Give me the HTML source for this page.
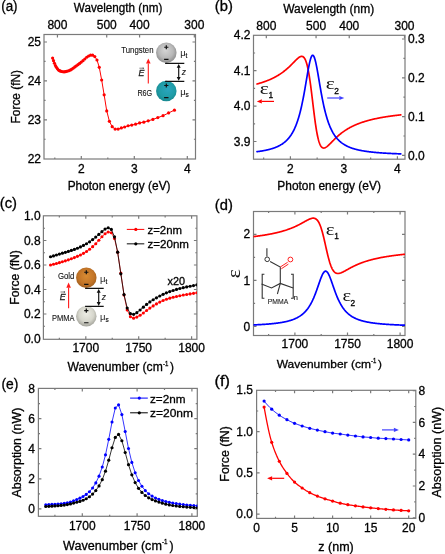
<!DOCTYPE html>
<html><head><meta charset="utf-8"><style>
html,body{margin:0;padding:0;background:#fff;width:445px;height:554px;overflow:hidden;position:relative}
</style></head><body>
<svg width="445" height="554" viewBox="0 0 445 554" style="position:absolute;left:0;top:0;will-change:transform">
<g font-family='"Liberation Sans", sans-serif'>
<text x="1.2" y="11.3" font-size="14" text-anchor="start" fill="#000" stroke="#000" stroke-width="0.3" textLength="16.4" lengthAdjust="spacingAndGlyphs" >(a)</text>
<rect x="44" y="34.5" width="151.5" height="124.5" fill="none" stroke="#7a7a7a" stroke-width="1.2"/>
<path d="M81.3 159v-3M134.3 159v-3M187.3 159v-3" stroke="#7a7a7a" stroke-width="1.2" fill="none"/>
<path d="M54.8 159v-1.6M107.8 159v-1.6M160.8 159v-1.6" stroke="#7a7a7a" stroke-width="1.2" fill="none"/>
<path d="M57.44 34.5v3M106.72 34.5v3M139.58 34.5v3M194.34 34.5v3" stroke="#7a7a7a" stroke-width="1.2" fill="none"/>
<path d="M44 119.8h3M44 80.9h3M44 42h3" stroke="#7a7a7a" stroke-width="1.2" fill="none"/>
<path d="M44 139.25h1.6M44 100.35h1.6M44 61.45h1.6" stroke="#7a7a7a" stroke-width="1.2" fill="none"/>
<path d="M195.5 119.8h-3M195.5 80.9h-3M195.5 42h-3" stroke="#7a7a7a" stroke-width="1.2" fill="none"/>
<path d="M195.5 139.25h-1.6M195.5 100.35h-1.6M195.5 61.45h-1.6" stroke="#7a7a7a" stroke-width="1.2" fill="none"/>
<text x="41" y="162.9" font-size="12" text-anchor="end" fill="#000" stroke="#000" stroke-width="0.3" >22</text>
<text x="41" y="124" font-size="12" text-anchor="end" fill="#000" stroke="#000" stroke-width="0.3" >23</text>
<text x="41" y="85.1" font-size="12" text-anchor="end" fill="#000" stroke="#000" stroke-width="0.3" >24</text>
<text x="41" y="46.2" font-size="12" text-anchor="end" fill="#000" stroke="#000" stroke-width="0.3" >25</text>
<text x="81.3" y="173.2" font-size="12" text-anchor="middle" fill="#000" stroke="#000" stroke-width="0.3" >2</text>
<text x="134.3" y="173.2" font-size="12" text-anchor="middle" fill="#000" stroke="#000" stroke-width="0.3" >3</text>
<text x="187.3" y="173.2" font-size="12" text-anchor="middle" fill="#000" stroke="#000" stroke-width="0.3" >4</text>
<text x="57.44" y="29.4" font-size="12" text-anchor="middle" fill="#000" stroke="#000" stroke-width="0.3" >800</text>
<text x="106.72" y="29.4" font-size="12" text-anchor="middle" fill="#000" stroke="#000" stroke-width="0.3" >500</text>
<text x="139.58" y="29.4" font-size="12" text-anchor="middle" fill="#000" stroke="#000" stroke-width="0.3" >400</text>
<text x="194.34" y="29.4" font-size="12" text-anchor="middle" fill="#000" stroke="#000" stroke-width="0.3" >300</text>
<text x="118.05" y="11.6" font-size="12" text-anchor="middle" fill="#000" stroke="#000" stroke-width="0.3" textLength="88.5" lengthAdjust="spacingAndGlyphs" >Wavelength (nm)</text>
<text x="119.1" y="189.6" font-size="12" text-anchor="middle" fill="#000" stroke="#000" stroke-width="0.3" textLength="102.8" lengthAdjust="spacingAndGlyphs" >Photon energy (eV)</text>
<text x="20.1" y="96.7" font-size="12" text-anchor="middle" fill="#000" stroke="#000" stroke-width="0.3" textLength="53.5" lengthAdjust="spacingAndGlyphs" transform="rotate(-90 20.1 96.7)">Force (fN)</text>
<path d="M174.43 110.13 L168.57 112.96 L163.05 115.71 L157.83 117.62 L152.9 119.4 L148.23 120.85 L143.79 122.13 L139.58 122.96 L135.57 124.21 L131.76 125.11 L128.12 125.77 L124.64 126.99 L121.33 127.97 L118.15 129.08 L115.11 129.1 L112.2 126.72 L109.41 121.34 L106.72 110.9 L104.15 94.87 L101.67 79.99 L99.28 67.34 L96.99 59.98 L94.78 56.55 L92.64 55.17 L90.58 55.2 L88.6 56.01 L86.68 57.26 L84.82 59.02 L83.02 60.71 L81.29 62.11 L79.6 63.42 L77.97 64.64 L76.39 65.79 L74.86 66.92 L73.38 68.06 L71.93 69.11 L70.53 69.96 L69.17 70.54 L67.85 70.99 L66.57 71.37 L65.32 71.65 L64.1 71.79 L62.92 71.75 L61.76 71.51 L60.64 71.13 L59.55 70.66 L58.48 70 L57.44 68.84 L56.43 67.35 L55.44 65.62 L54.47 63.25 L53.53 60.71 L52.61 58.11" stroke="#ff0000" stroke-width="1.0" fill="none" stroke-linejoin="round" stroke-linecap="round"/>
<circle cx="174.43" cy="110.13" r="1.6" fill="#ff0000"/>
<circle cx="168.57" cy="112.96" r="1.6" fill="#ff0000"/>
<circle cx="163.05" cy="115.71" r="1.6" fill="#ff0000"/>
<circle cx="157.83" cy="117.62" r="1.6" fill="#ff0000"/>
<circle cx="152.9" cy="119.4" r="1.6" fill="#ff0000"/>
<circle cx="148.23" cy="120.85" r="1.6" fill="#ff0000"/>
<circle cx="143.79" cy="122.13" r="1.6" fill="#ff0000"/>
<circle cx="139.58" cy="122.96" r="1.6" fill="#ff0000"/>
<circle cx="135.57" cy="124.21" r="1.6" fill="#ff0000"/>
<circle cx="131.76" cy="125.11" r="1.6" fill="#ff0000"/>
<circle cx="128.12" cy="125.77" r="1.6" fill="#ff0000"/>
<circle cx="124.64" cy="126.99" r="1.6" fill="#ff0000"/>
<circle cx="121.33" cy="127.97" r="1.6" fill="#ff0000"/>
<circle cx="118.15" cy="129.08" r="1.6" fill="#ff0000"/>
<circle cx="115.11" cy="129.1" r="1.6" fill="#ff0000"/>
<circle cx="112.2" cy="126.72" r="1.6" fill="#ff0000"/>
<circle cx="109.41" cy="121.34" r="1.6" fill="#ff0000"/>
<circle cx="106.72" cy="110.9" r="1.6" fill="#ff0000"/>
<circle cx="104.15" cy="94.87" r="1.6" fill="#ff0000"/>
<circle cx="101.67" cy="79.99" r="1.6" fill="#ff0000"/>
<circle cx="99.28" cy="67.34" r="1.6" fill="#ff0000"/>
<circle cx="96.99" cy="59.98" r="1.6" fill="#ff0000"/>
<circle cx="94.78" cy="56.55" r="1.6" fill="#ff0000"/>
<circle cx="92.64" cy="55.17" r="1.6" fill="#ff0000"/>
<circle cx="90.58" cy="55.2" r="1.6" fill="#ff0000"/>
<circle cx="88.6" cy="56.01" r="1.6" fill="#ff0000"/>
<circle cx="86.68" cy="57.26" r="1.6" fill="#ff0000"/>
<circle cx="84.82" cy="59.02" r="1.6" fill="#ff0000"/>
<circle cx="83.02" cy="60.71" r="1.6" fill="#ff0000"/>
<circle cx="81.29" cy="62.11" r="1.6" fill="#ff0000"/>
<circle cx="79.6" cy="63.42" r="1.6" fill="#ff0000"/>
<circle cx="77.97" cy="64.64" r="1.6" fill="#ff0000"/>
<circle cx="76.39" cy="65.79" r="1.6" fill="#ff0000"/>
<circle cx="74.86" cy="66.92" r="1.6" fill="#ff0000"/>
<circle cx="73.38" cy="68.06" r="1.6" fill="#ff0000"/>
<circle cx="71.93" cy="69.11" r="1.6" fill="#ff0000"/>
<circle cx="70.53" cy="69.96" r="1.6" fill="#ff0000"/>
<circle cx="69.17" cy="70.54" r="1.6" fill="#ff0000"/>
<circle cx="67.85" cy="70.99" r="1.6" fill="#ff0000"/>
<circle cx="66.57" cy="71.37" r="1.6" fill="#ff0000"/>
<circle cx="65.32" cy="71.65" r="1.6" fill="#ff0000"/>
<circle cx="64.1" cy="71.79" r="1.6" fill="#ff0000"/>
<circle cx="62.92" cy="71.75" r="1.6" fill="#ff0000"/>
<circle cx="61.76" cy="71.51" r="1.6" fill="#ff0000"/>
<circle cx="60.64" cy="71.13" r="1.6" fill="#ff0000"/>
<circle cx="59.55" cy="70.66" r="1.6" fill="#ff0000"/>
<circle cx="58.48" cy="70" r="1.6" fill="#ff0000"/>
<circle cx="57.44" cy="68.84" r="1.6" fill="#ff0000"/>
<circle cx="56.43" cy="67.35" r="1.6" fill="#ff0000"/>
<circle cx="55.44" cy="65.62" r="1.6" fill="#ff0000"/>
<circle cx="54.47" cy="63.25" r="1.6" fill="#ff0000"/>
<circle cx="53.53" cy="60.71" r="1.6" fill="#ff0000"/>
<circle cx="52.61" cy="58.11" r="1.6" fill="#ff0000"/>
<text x="214.8" y="10.9" font-size="14" text-anchor="start" fill="#000" stroke="#000" stroke-width="0.3" textLength="18" lengthAdjust="spacingAndGlyphs" >(b)</text>
<rect x="253.5" y="35.3" width="151.5" height="123.9" fill="none" stroke="#7a7a7a" stroke-width="1.2"/>
<path d="M290.4 159.2v-3M343.9 159.2v-3M397.4 159.2v-3" stroke="#7a7a7a" stroke-width="1.2" fill="none"/>
<path d="M263.65 159.2v-1.6M317.15 159.2v-1.6M370.65 159.2v-1.6" stroke="#7a7a7a" stroke-width="1.2" fill="none"/>
<path d="M266.31 35.3v3M316.06 35.3v3M349.23 35.3v3M404.5 35.3v3" stroke="#7a7a7a" stroke-width="1.2" fill="none"/>
<path d="M253.5 141.5h3M253.5 106.1h3M253.5 70.7h3" stroke="#7a7a7a" stroke-width="1.2" fill="none"/>
<path d="M253.5 123.8h1.6M253.5 88.4h1.6M253.5 53h1.6" stroke="#7a7a7a" stroke-width="1.2" fill="none"/>
<path d="M405 155.4h-3M405 116.6h-3M405 77.8h-3M405 39h-3" stroke="#7a7a7a" stroke-width="1.2" fill="none"/>
<path d="M405 136h-1.6M405 97.2h-1.6M405 58.4h-1.6" stroke="#7a7a7a" stroke-width="1.2" fill="none"/>
<text x="250.5" y="145.6" font-size="12" text-anchor="end" fill="#000" stroke="#000" stroke-width="0.3" >3.9</text>
<text x="250.5" y="110.2" font-size="12" text-anchor="end" fill="#000" stroke="#000" stroke-width="0.3" >4.0</text>
<text x="250.5" y="74.8" font-size="12" text-anchor="end" fill="#000" stroke="#000" stroke-width="0.3" >4.1</text>
<text x="250.5" y="39.4" font-size="12" text-anchor="end" fill="#000" stroke="#000" stroke-width="0.3" >4.2</text>
<text x="408" y="159.5" font-size="12" text-anchor="start" fill="#000" stroke="#000" stroke-width="0.3" >0.0</text>
<text x="408" y="120.7" font-size="12" text-anchor="start" fill="#000" stroke="#000" stroke-width="0.3" >0.1</text>
<text x="408" y="81.9" font-size="12" text-anchor="start" fill="#000" stroke="#000" stroke-width="0.3" >0.2</text>
<text x="408" y="43.1" font-size="12" text-anchor="start" fill="#000" stroke="#000" stroke-width="0.3" >0.3</text>
<text x="290.4" y="173.2" font-size="12" text-anchor="middle" fill="#000" stroke="#000" stroke-width="0.3" >2</text>
<text x="343.9" y="173.2" font-size="12" text-anchor="middle" fill="#000" stroke="#000" stroke-width="0.3" >3</text>
<text x="397.4" y="173.2" font-size="12" text-anchor="middle" fill="#000" stroke="#000" stroke-width="0.3" >4</text>
<text x="266.31" y="30.2" font-size="12" text-anchor="middle" fill="#000" stroke="#000" stroke-width="0.3" >800</text>
<text x="316.06" y="30.2" font-size="12" text-anchor="middle" fill="#000" stroke="#000" stroke-width="0.3" >500</text>
<text x="349.23" y="30.2" font-size="12" text-anchor="middle" fill="#000" stroke="#000" stroke-width="0.3" >400</text>
<text x="404.5" y="30.2" font-size="12" text-anchor="middle" fill="#000" stroke="#000" stroke-width="0.3" >300</text>
<text x="328.65" y="12.9" font-size="12" text-anchor="middle" fill="#000" stroke="#000" stroke-width="0.3" textLength="91" lengthAdjust="spacingAndGlyphs" >Wavelength (nm)</text>
<text x="329.1" y="189.6" font-size="12" text-anchor="middle" fill="#000" stroke="#000" stroke-width="0.3" textLength="103.6" lengthAdjust="spacingAndGlyphs" >Photon energy (eV)</text>
<clipPath id="cb"><rect x="253.5" y="35.3" width="151.5" height="123.9"/></clipPath>
<g clip-path="url(#cb)">
<path d="M257 83.97 L257.36 83.88 L257.72 83.78 L258.08 83.68 L258.44 83.57 L258.8 83.47 L259.16 83.37 L259.52 83.26 L259.88 83.15 L260.24 83.05 L260.6 82.94 L260.96 82.82 L261.32 82.71 L261.69 82.6 L262.05 82.48 L262.41 82.36 L262.77 82.25 L263.13 82.13 L263.49 82 L263.85 81.88 L264.21 81.76 L264.57 81.63 L264.93 81.5 L265.29 81.37 L265.65 81.24 L266.01 81.11 L266.37 80.97 L266.73 80.83 L267.09 80.69 L267.45 80.55 L267.81 80.41 L268.17 80.26 L268.53 80.12 L268.89 79.97 L269.25 79.82 L269.61 79.66 L269.97 79.51 L270.33 79.35 L270.7 79.19 L271.06 79.03 L271.42 78.86 L271.78 78.7 L272.14 78.53 L272.5 78.36 L272.86 78.18 L273.22 78 L273.58 77.82 L273.94 77.64 L274.3 77.46 L274.66 77.27 L275.02 77.08 L275.38 76.89 L275.74 76.69 L276.1 76.49 L276.46 76.29 L276.82 76.08 L277.18 75.88 L277.54 75.67 L277.9 75.45 L278.26 75.23 L278.62 75.01 L278.98 74.79 L279.34 74.56 L279.71 74.33 L280.07 74.09 L280.43 73.85 L280.79 73.61 L281.15 73.37 L281.51 73.12 L281.87 72.86 L282.23 72.61 L282.59 72.35 L282.95 72.08 L283.31 71.81 L283.67 71.54 L284.03 71.26 L284.39 70.98 L284.75 70.69 L285.11 70.4 L285.47 70.11 L285.83 69.81 L286.19 69.51 L286.55 69.2 L286.91 68.89 L287.27 68.58 L287.63 68.26 L287.99 67.94 L288.35 67.61 L288.72 67.28 L289.08 66.94 L289.44 66.6 L289.8 66.26 L290.16 65.91 L290.52 65.56 L290.88 65.21 L291.24 64.85 L291.6 64.49 L291.96 64.13 L292.32 63.77 L292.68 63.4 L293.04 63.03 L293.4 62.66 L293.76 62.3 L294.12 61.93 L294.48 61.56 L294.84 61.19 L295.2 60.83 L295.56 60.46 L295.92 60.11 L296.28 59.76 L296.64 59.41 L297 59.07 L297.36 58.75 L297.73 58.43 L298.09 58.13 L298.45 57.84 L298.81 57.56 L299.17 57.31 L299.53 57.08 L299.89 56.88 L300.25 56.7 L300.61 56.56 L300.97 56.45 L301.33 56.38 L301.69 56.36 L302.05 56.38 L302.41 56.46 L302.77 56.6 L303.13 56.8 L303.49 57.07 L303.85 57.42 L304.21 57.85 L304.57 58.37 L304.93 58.98 L305.29 59.7 L305.65 60.53 L306.01 61.48 L306.37 62.55 L306.74 63.74 L307.1 65.07 L307.46 66.54 L307.82 68.14 L308.18 69.89 L308.54 71.79 L308.9 73.82 L309.26 76 L309.62 78.31 L309.98 80.75 L310.34 83.31 L310.7 85.98 L311.06 88.75 L311.42 91.6 L311.78 94.51 L312.14 97.48 L312.5 100.47 L312.86 103.48 L313.22 106.48 L313.58 109.45 L313.94 112.37 L314.3 115.23 L314.66 118.01 L315.02 120.7 L315.38 123.28 L315.75 125.74 L316.11 128.07 L316.47 130.27 L316.83 132.32 L317.19 134.24 L317.55 136.01 L317.91 137.64 L318.27 139.13 L318.63 140.48 L318.99 141.69 L319.35 142.78 L319.71 143.74 L320.07 144.59 L320.43 145.32 L320.79 145.96 L321.15 146.49 L321.51 146.94 L321.87 147.3 L322.23 147.58 L322.59 147.79 L322.95 147.94 L323.31 148.02 L323.67 148.05 L324.03 148.04 L324.39 147.97 L324.76 147.87 L325.12 147.73 L325.48 147.56 L325.84 147.36 L326.2 147.14 L326.56 146.89 L326.92 146.62 L327.28 146.33 L327.64 146.03 L328 145.72 L328.36 145.39 L328.72 145.05 L329.08 144.71 L329.44 144.36 L329.8 144 L330.16 143.64 L330.52 143.28 L330.88 142.91 L331.24 142.54 L331.6 142.17 L331.96 141.8 L332.32 141.44 L332.68 141.07 L333.04 140.7 L333.41 140.34 L333.77 139.97 L334.13 139.61 L334.49 139.26 L334.85 138.9 L335.21 138.55 L335.57 138.21 L335.93 137.86 L336.29 137.52 L336.65 137.19 L337.01 136.85 L337.37 136.53 L337.73 136.2 L338.09 135.88 L338.45 135.57 L338.81 135.26 L339.17 134.95 L339.53 134.65 L339.89 134.35 L340.25 134.05 L340.61 133.76 L340.97 133.48 L341.33 133.19 L341.69 132.92 L342.05 132.64 L342.42 132.37 L342.78 132.11 L343.14 131.85 L343.5 131.59 L343.86 131.33 L344.22 131.08 L344.58 130.84 L344.94 130.59 L345.3 130.36 L345.66 130.12 L346.02 129.89 L346.38 129.66 L346.74 129.43 L347.1 129.21 L347.46 128.99 L347.82 128.78 L348.18 128.57 L348.54 128.36 L348.9 128.15 L349.26 127.95 L349.62 127.75 L349.98 127.55 L350.34 127.36 L350.7 127.17 L351.06 126.98 L351.43 126.8 L351.79 126.61 L352.15 126.43 L352.51 126.26 L352.87 126.08 L353.23 125.91 L353.59 125.74 L353.95 125.57 L354.31 125.41 L354.67 125.25 L355.03 125.09 L355.39 124.93 L355.75 124.77 L356.11 124.62 L356.47 124.47 L356.83 124.32 L357.19 124.17 L357.55 124.02 L357.91 123.88 L358.27 123.74 L358.63 123.6 L358.99 123.46 L359.35 123.33 L359.71 123.19 L360.07 123.06 L360.44 122.93 L360.8 122.8 L361.16 122.68 L361.52 122.55 L361.88 122.43 L362.24 122.3 L362.6 122.18 L362.96 122.07 L363.32 121.95 L363.68 121.83 L364.04 121.72 L364.4 121.6 L364.76 121.49 L365.12 121.38 L365.48 121.27 L365.84 121.17 L366.2 121.06 L366.56 120.96 L366.92 120.85 L367.28 120.75 L367.64 120.65 L368 120.55 L368.36 120.45 L368.72 120.35 L369.08 120.26 L369.45 120.16 L369.81 120.07 L370.17 119.98 L370.53 119.89 L370.89 119.8 L371.25 119.71 L371.61 119.62 L371.97 119.53 L372.33 119.44 L372.69 119.36 L373.05 119.27 L373.41 119.19 L373.77 119.11 L374.13 119.03 L374.49 118.95 L374.85 118.87 L375.21 118.79 L375.57 118.71 L375.93 118.63 L376.29 118.56 L376.65 118.48 L377.01 118.41 L377.37 118.33 L377.73 118.26 L378.09 118.19 L378.46 118.12 L378.82 118.05 L379.18 117.98 L379.54 117.91 L379.9 117.84 L380.26 117.77 L380.62 117.7 L380.98 117.64 L381.34 117.57 L381.7 117.51 L382.06 117.44 L382.42 117.38 L382.78 117.32 L383.14 117.26 L383.5 117.2 L383.86 117.13 L384.22 117.07 L384.58 117.01 L384.94 116.96 L385.3 116.9 L385.66 116.84 L386.02 116.78 L386.38 116.73 L386.74 116.67 L387.1 116.61 L387.47 116.56 L387.83 116.51 L388.19 116.45 L388.55 116.4 L388.91 116.35 L389.27 116.29 L389.63 116.24 L389.99 116.19 L390.35 116.14 L390.71 116.09 L391.07 116.04 L391.43 115.99 L391.79 115.94 L392.15 115.89 L392.51 115.85 L392.87 115.8 L393.23 115.75 L393.59 115.7 L393.95 115.66 L394.31 115.61 L394.67 115.57 L395.03 115.52 L395.39 115.48 L395.75 115.43 L396.11 115.39 L396.48 115.35 L396.84 115.31 L397.2 115.26 L397.56 115.22 L397.92 115.18 L398.28 115.14 L398.64 115.1 L399 115.06 L399.36 115.02 L399.72 114.98 L400.08 114.94 L400.44 114.9 L400.8 114.86" stroke="#ff0000" stroke-width="1.7" fill="none" stroke-linejoin="round" stroke-linecap="round"/>
<path d="M257 151.66 L257.36 151.62 L257.72 151.57 L258.08 151.52 L258.44 151.47 L258.8 151.42 L259.16 151.37 L259.52 151.32 L259.88 151.26 L260.24 151.21 L260.6 151.15 L260.96 151.1 L261.32 151.04 L261.69 150.98 L262.05 150.92 L262.41 150.86 L262.77 150.79 L263.13 150.73 L263.49 150.67 L263.85 150.6 L264.21 150.53 L264.57 150.46 L264.93 150.39 L265.29 150.32 L265.65 150.24 L266.01 150.17 L266.37 150.09 L266.73 150.01 L267.09 149.93 L267.45 149.85 L267.81 149.76 L268.17 149.68 L268.53 149.59 L268.89 149.5 L269.25 149.41 L269.61 149.31 L269.97 149.21 L270.33 149.12 L270.7 149.01 L271.06 148.91 L271.42 148.8 L271.78 148.69 L272.14 148.58 L272.5 148.47 L272.86 148.35 L273.22 148.23 L273.58 148.11 L273.94 147.98 L274.3 147.85 L274.66 147.72 L275.02 147.59 L275.38 147.45 L275.74 147.3 L276.1 147.16 L276.46 147 L276.82 146.85 L277.18 146.69 L277.54 146.53 L277.9 146.36 L278.26 146.19 L278.62 146.01 L278.98 145.83 L279.34 145.64 L279.71 145.45 L280.07 145.25 L280.43 145.04 L280.79 144.83 L281.15 144.62 L281.51 144.39 L281.87 144.16 L282.23 143.93 L282.59 143.68 L282.95 143.43 L283.31 143.17 L283.67 142.9 L284.03 142.63 L284.39 142.34 L284.75 142.05 L285.11 141.75 L285.47 141.43 L285.83 141.11 L286.19 140.78 L286.55 140.43 L286.91 140.08 L287.27 139.71 L287.63 139.33 L287.99 138.93 L288.35 138.52 L288.72 138.1 L289.08 137.66 L289.44 137.21 L289.8 136.74 L290.16 136.25 L290.52 135.75 L290.88 135.23 L291.24 134.69 L291.6 134.12 L291.96 133.54 L292.32 132.94 L292.68 132.31 L293.04 131.66 L293.4 130.98 L293.76 130.28 L294.12 129.55 L294.48 128.79 L294.84 128 L295.2 127.19 L295.56 126.34 L295.92 125.45 L296.28 124.53 L296.64 123.58 L297 122.58 L297.36 121.55 L297.73 120.48 L298.09 119.36 L298.45 118.21 L298.81 117 L299.17 115.75 L299.53 114.45 L299.89 113.1 L300.25 111.71 L300.61 110.25 L300.97 108.75 L301.33 107.2 L301.69 105.59 L302.05 103.92 L302.41 102.2 L302.77 100.43 L303.13 98.61 L303.49 96.74 L303.85 94.81 L304.21 92.84 L304.57 90.83 L304.93 88.78 L305.29 86.7 L305.65 84.6 L306.01 82.47 L306.37 80.34 L306.74 78.2 L307.1 76.08 L307.46 73.98 L307.82 71.91 L308.18 69.9 L308.54 67.95 L308.9 66.08 L309.26 64.32 L309.62 62.66 L309.98 61.14 L310.34 59.76 L310.7 58.55 L311.06 57.51 L311.42 56.66 L311.78 56.01 L312.14 55.56 L312.5 55.33 L312.86 55.32 L313.22 55.51 L313.58 55.93 L313.94 56.55 L314.3 57.37 L314.66 58.38 L315.02 59.57 L315.38 60.92 L315.75 62.42 L316.11 64.06 L316.47 65.81 L316.83 67.66 L317.19 69.6 L317.55 71.6 L317.91 73.66 L318.27 75.76 L318.63 77.88 L318.99 80.01 L319.35 82.15 L319.71 84.27 L320.07 86.38 L320.43 88.47 L320.79 90.52 L321.15 92.54 L321.51 94.51 L321.87 96.44 L322.23 98.33 L322.59 100.16 L322.95 101.94 L323.31 103.66 L323.67 105.34 L324.03 106.95 L324.39 108.52 L324.76 110.03 L325.12 111.49 L325.48 112.89 L325.84 114.25 L326.2 115.55 L326.56 116.81 L326.92 118.02 L327.28 119.19 L327.64 120.31 L328 121.39 L328.36 122.43 L328.72 123.43 L329.08 124.39 L329.44 125.31 L329.8 126.2 L330.16 127.06 L330.52 127.88 L330.88 128.67 L331.24 129.44 L331.6 130.17 L331.96 130.88 L332.32 131.56 L332.68 132.21 L333.04 132.84 L333.41 133.45 L333.77 134.04 L334.13 134.6 L334.49 135.15 L334.85 135.67 L335.21 136.18 L335.57 136.67 L335.93 137.14 L336.29 137.59 L336.65 138.03 L337.01 138.46 L337.37 138.87 L337.73 139.27 L338.09 139.65 L338.45 140.02 L338.81 140.38 L339.17 140.73 L339.53 141.06 L339.89 141.39 L340.25 141.7 L340.61 142 L340.97 142.3 L341.33 142.59 L341.69 142.86 L342.05 143.13 L342.42 143.39 L342.78 143.64 L343.14 143.89 L343.5 144.13 L343.86 144.36 L344.22 144.58 L344.58 144.8 L344.94 145.01 L345.3 145.22 L345.66 145.42 L346.02 145.61 L346.38 145.8 L346.74 145.98 L347.1 146.16 L347.46 146.33 L347.82 146.5 L348.18 146.67 L348.54 146.83 L348.9 146.98 L349.26 147.13 L349.62 147.28 L349.98 147.42 L350.34 147.56 L350.7 147.7 L351.06 147.83 L351.43 147.96 L351.79 148.09 L352.15 148.21 L352.51 148.33 L352.87 148.45 L353.23 148.57 L353.59 148.68 L353.95 148.79 L354.31 148.89 L354.67 149 L355.03 149.1 L355.39 149.2 L355.75 149.3 L356.11 149.39 L356.47 149.48 L356.83 149.57 L357.19 149.66 L357.55 149.75 L357.91 149.83 L358.27 149.92 L358.63 150 L358.99 150.08 L359.35 150.16 L359.71 150.23 L360.07 150.31 L360.44 150.38 L360.8 150.45 L361.16 150.52 L361.52 150.59 L361.88 150.66 L362.24 150.72 L362.6 150.78 L362.96 150.85 L363.32 150.91 L363.68 150.97 L364.04 151.03 L364.4 151.09 L364.76 151.14 L365.12 151.2 L365.48 151.26 L365.84 151.31 L366.2 151.36 L366.56 151.41 L366.92 151.46 L367.28 151.51 L367.64 151.56 L368 151.61 L368.36 151.66 L368.72 151.7 L369.08 151.75 L369.45 151.79 L369.81 151.84 L370.17 151.88 L370.53 151.92 L370.89 151.96 L371.25 152.01 L371.61 152.05 L371.97 152.08 L372.33 152.12 L372.69 152.16 L373.05 152.2 L373.41 152.24 L373.77 152.27 L374.13 152.31 L374.49 152.34 L374.85 152.38 L375.21 152.41 L375.57 152.44 L375.93 152.48 L376.29 152.51 L376.65 152.54 L377.01 152.57 L377.37 152.6 L377.73 152.63 L378.09 152.66 L378.46 152.69 L378.82 152.72 L379.18 152.75 L379.54 152.77 L379.9 152.8 L380.26 152.83 L380.62 152.86 L380.98 152.88 L381.34 152.91 L381.7 152.93 L382.06 152.96 L382.42 152.98 L382.78 153.01 L383.14 153.03 L383.5 153.05 L383.86 153.08 L384.22 153.1 L384.58 153.12 L384.94 153.14 L385.3 153.17 L385.66 153.19 L386.02 153.21 L386.38 153.23 L386.74 153.25 L387.1 153.27 L387.47 153.29 L387.83 153.31 L388.19 153.33 L388.55 153.35 L388.91 153.37 L389.27 153.39 L389.63 153.41 L389.99 153.42 L390.35 153.44 L390.71 153.46 L391.07 153.48 L391.43 153.49 L391.79 153.51 L392.15 153.53 L392.51 153.54 L392.87 153.56 L393.23 153.58 L393.59 153.59 L393.95 153.61 L394.31 153.62 L394.67 153.64 L395.03 153.65 L395.39 153.67 L395.75 153.68 L396.11 153.7 L396.48 153.71 L396.84 153.73 L397.2 153.74 L397.56 153.75 L397.92 153.77 L398.28 153.78 L398.64 153.8 L399 153.81 L399.36 153.82 L399.72 153.83 L400.08 153.85 L400.44 153.86 L400.8 153.87" stroke="#0000ff" stroke-width="1.7" fill="none" stroke-linejoin="round" stroke-linecap="round"/>
</g>
<text transform="translate(259.86 93.7) scale(1.340 1.038)" font-size="16" font-family='"Liberation Serif", serif' fill="#111">&#949;</text>
<text x="268.6" y="98.2" font-size="8.4" text-anchor="start" fill="#000" stroke="#000" stroke-width="0.3" >1</text>
<path d="M274 101.4L261.8 101.4" stroke="#ff0000" stroke-width="1.2" opacity="1"/>
<path d="M256.8 101.4L261.8 99.3L261.8 103.5Z" fill="#ff0000" opacity="1"/>
<text transform="translate(325.86 89) scale(1.340 1.012)" font-size="16" font-family='"Liberation Serif", serif' fill="#111">&#949;</text>
<text x="334.2" y="93.5" font-size="8.4" text-anchor="start" fill="#000" stroke="#000" stroke-width="0.3" >2</text>
<path d="M327.2 98L339.3 98" stroke="#0000ff" stroke-width="1.2" opacity="0.75"/>
<path d="M344.3 98L339.3 100.1L339.3 95.9Z" fill="#0000ff" opacity="0.75"/>
<text x="-0.2" y="208.3" font-size="14" text-anchor="start" fill="#000" stroke="#000" stroke-width="0.3" textLength="17.2" lengthAdjust="spacingAndGlyphs" >(c)</text>
<rect x="43.4" y="215.8" width="153.5" height="123.5" fill="none" stroke="#7a7a7a" stroke-width="1.2"/>
<path d="M85.8 339.3v-3M138.7 339.3v-3M191.6 339.3v-3" stroke="#7a7a7a" stroke-width="1.2" fill="none"/>
<path d="M59.35 339.3v-1.6M112.25 339.3v-1.6M165.15 339.3v-1.6" stroke="#7a7a7a" stroke-width="1.2" fill="none"/>
<path d="M85.8 215.8v3M138.7 215.8v3M191.6 215.8v3" stroke="#7a7a7a" stroke-width="1.2" fill="none"/>
<path d="M59.35 215.8v1.6M112.25 215.8v1.6M165.15 215.8v1.6" stroke="#7a7a7a" stroke-width="1.2" fill="none"/>
<path d="M43.4 314h3M43.4 289.5h3M43.4 265h3M43.4 240.5h3" stroke="#7a7a7a" stroke-width="1.2" fill="none"/>
<path d="M43.4 326.25h1.6M43.4 301.75h1.6M43.4 277.25h1.6M43.4 252.75h1.6M43.4 228.25h1.6" stroke="#7a7a7a" stroke-width="1.2" fill="none"/>
<path d="M196.9 314h-3M196.9 289.5h-3M196.9 265h-3M196.9 240.5h-3" stroke="#7a7a7a" stroke-width="1.2" fill="none"/>
<path d="M196.9 326.25h-1.6M196.9 301.75h-1.6M196.9 277.25h-1.6M196.9 252.75h-1.6M196.9 228.25h-1.6" stroke="#7a7a7a" stroke-width="1.2" fill="none"/>
<text x="40.6" y="342.7" font-size="12" text-anchor="end" fill="#000" stroke="#000" stroke-width="0.3" >0.0</text>
<text x="40.6" y="318.2" font-size="12" text-anchor="end" fill="#000" stroke="#000" stroke-width="0.3" >0.2</text>
<text x="40.6" y="293.7" font-size="12" text-anchor="end" fill="#000" stroke="#000" stroke-width="0.3" >0.4</text>
<text x="40.6" y="269.2" font-size="12" text-anchor="end" fill="#000" stroke="#000" stroke-width="0.3" >0.6</text>
<text x="40.6" y="244.7" font-size="12" text-anchor="end" fill="#000" stroke="#000" stroke-width="0.3" >0.8</text>
<text x="40.6" y="220.2" font-size="12" text-anchor="end" fill="#000" stroke="#000" stroke-width="0.3" >1.0</text>
<text x="85.8" y="351.8" font-size="12" text-anchor="middle" fill="#000" stroke="#000" stroke-width="0.3" >1700</text>
<text x="138.7" y="351.8" font-size="12" text-anchor="middle" fill="#000" stroke="#000" stroke-width="0.3" >1750</text>
<text x="191.6" y="351.8" font-size="12" text-anchor="middle" fill="#000" stroke="#000" stroke-width="0.3" >1800</text>
<text x="67.5" y="371.4" font-size="11.85150410209663" text-anchor="start" fill="#000" stroke="#000" stroke-width="0.3" textLength="95.29" lengthAdjust="spacingAndGlyphs" >Wavenumber (cm</text>
<text x="162.89" y="366" font-size="7.708295350957157" text-anchor="start" fill="#000" stroke="#000" stroke-width="0.3" textLength="5.4" lengthAdjust="spacingAndGlyphs" >-1</text>
<text x="170.02" y="371.4" font-size="11.85150410209663" text-anchor="start" fill="#000" stroke="#000" stroke-width="0.3" >)</text>
<text x="19.5" y="277.45" font-size="12" text-anchor="middle" fill="#000" stroke="#000" stroke-width="0.3" textLength="54.6" lengthAdjust="spacingAndGlyphs" transform="rotate(-90 19.5 277.45)">Force (fN)</text>
<clipPath id="cc"><rect x="43.4" y="215.8" width="153.5" height="123.5"/></clipPath>
<g clip-path="url(#cc)">
<path d="M50.53 264.95 L53.48 264.25 L56.43 263.46 L59.39 262.63 L62.37 261.77 L65.35 260.86 L68.34 259.87 L71.35 258.78 L74.36 257.6 L77.39 256.35 L80.42 254.96 L83.46 253.33 L86.52 251.43 L89.59 249.23 L92.66 246.67 L95.75 243.69 L98.84 240.3 L101.95 236.77 L105.07 233.72 L108.2 231.96 L111.34 232.74 L114.49 238.54 L117.65 252.14 L120.82 273.11 L124.01 294.93 L127.2 310 L130.41 316.78 L133.62 318.14 L136.85 317.1 L140.09 315.28 L143.34 313.02 L146.6 310.53 L149.88 308.11 L153.16 305.9 L156.46 303.9 L159.77 302.09 L163.09 300.52 L166.42 299.21 L169.76 298.16 L173.12 297.29 L176.49 296.5 L179.87 295.76 L183.26 295.07 L186.66 294.46 L190.08 293.9 L193.51 293.34 L196.95 292.75" stroke="#ff0000" stroke-width="0.8" fill="none" stroke-linejoin="round" stroke-linecap="round"/>
<circle cx="50.53" cy="264.95" r="1.55" fill="#ff0000"/>
<circle cx="53.48" cy="264.25" r="1.55" fill="#ff0000"/>
<circle cx="56.43" cy="263.46" r="1.55" fill="#ff0000"/>
<circle cx="59.39" cy="262.63" r="1.55" fill="#ff0000"/>
<circle cx="62.37" cy="261.77" r="1.55" fill="#ff0000"/>
<circle cx="65.35" cy="260.86" r="1.55" fill="#ff0000"/>
<circle cx="68.34" cy="259.87" r="1.55" fill="#ff0000"/>
<circle cx="71.35" cy="258.78" r="1.55" fill="#ff0000"/>
<circle cx="74.36" cy="257.6" r="1.55" fill="#ff0000"/>
<circle cx="77.39" cy="256.35" r="1.55" fill="#ff0000"/>
<circle cx="80.42" cy="254.96" r="1.55" fill="#ff0000"/>
<circle cx="83.46" cy="253.33" r="1.55" fill="#ff0000"/>
<circle cx="86.52" cy="251.43" r="1.55" fill="#ff0000"/>
<circle cx="89.59" cy="249.23" r="1.55" fill="#ff0000"/>
<circle cx="92.66" cy="246.67" r="1.55" fill="#ff0000"/>
<circle cx="95.75" cy="243.69" r="1.55" fill="#ff0000"/>
<circle cx="98.84" cy="240.3" r="1.55" fill="#ff0000"/>
<circle cx="101.95" cy="236.77" r="1.55" fill="#ff0000"/>
<circle cx="105.07" cy="233.72" r="1.55" fill="#ff0000"/>
<circle cx="108.2" cy="231.96" r="1.55" fill="#ff0000"/>
<circle cx="111.34" cy="232.74" r="1.55" fill="#ff0000"/>
<circle cx="114.49" cy="238.54" r="1.55" fill="#ff0000"/>
<circle cx="117.65" cy="252.14" r="1.55" fill="#ff0000"/>
<circle cx="120.82" cy="273.11" r="1.55" fill="#ff0000"/>
<circle cx="124.01" cy="294.93" r="1.55" fill="#ff0000"/>
<circle cx="127.2" cy="310" r="1.55" fill="#ff0000"/>
<circle cx="130.41" cy="316.78" r="1.55" fill="#ff0000"/>
<circle cx="133.62" cy="318.14" r="1.55" fill="#ff0000"/>
<circle cx="136.85" cy="317.1" r="1.55" fill="#ff0000"/>
<circle cx="140.09" cy="315.28" r="1.55" fill="#ff0000"/>
<circle cx="143.34" cy="313.02" r="1.55" fill="#ff0000"/>
<circle cx="146.6" cy="310.53" r="1.55" fill="#ff0000"/>
<circle cx="149.88" cy="308.11" r="1.55" fill="#ff0000"/>
<circle cx="153.16" cy="305.9" r="1.55" fill="#ff0000"/>
<circle cx="156.46" cy="303.9" r="1.55" fill="#ff0000"/>
<circle cx="159.77" cy="302.09" r="1.55" fill="#ff0000"/>
<circle cx="163.09" cy="300.52" r="1.55" fill="#ff0000"/>
<circle cx="166.42" cy="299.21" r="1.55" fill="#ff0000"/>
<circle cx="169.76" cy="298.16" r="1.55" fill="#ff0000"/>
<circle cx="173.12" cy="297.29" r="1.55" fill="#ff0000"/>
<circle cx="176.49" cy="296.5" r="1.55" fill="#ff0000"/>
<circle cx="179.87" cy="295.76" r="1.55" fill="#ff0000"/>
<circle cx="183.26" cy="295.07" r="1.55" fill="#ff0000"/>
<circle cx="186.66" cy="294.46" r="1.55" fill="#ff0000"/>
<circle cx="190.08" cy="293.9" r="1.55" fill="#ff0000"/>
<circle cx="193.51" cy="293.34" r="1.55" fill="#ff0000"/>
<circle cx="196.95" cy="292.75" r="1.55" fill="#ff0000"/>
<path d="M50.53 256.76 L53.48 255.93 L56.43 255 L59.39 254.06 L62.37 253.15 L65.35 252.28 L68.34 251.4 L71.35 250.46 L74.36 249.42 L77.39 248.25 L80.42 246.93 L83.46 245.44 L86.52 243.74 L89.59 241.79 L92.66 239.58 L95.75 237.11 L98.84 234.43 L101.95 231.64 L105.07 229.09 L108.2 227.76 L111.34 229.46 L114.49 236.79 L117.65 252.14 L120.82 273.85 L124.01 294.62 L127.2 308.01 L130.41 313.64 L133.62 314.35 L136.85 312.65 L140.09 310.01 L143.34 307.14 L146.6 304.39 L149.88 301.94 L153.16 299.77 L156.46 297.81 L159.77 295.98 L163.09 294.33 L166.42 292.87 L169.76 291.61 L173.12 290.48 L176.49 289.44 L179.87 288.51 L183.26 287.67 L186.66 286.93 L190.08 286.23 L193.51 285.53 L196.95 284.87" stroke="#000000" stroke-width="0.8" fill="none" stroke-linejoin="round" stroke-linecap="round"/>
<circle cx="50.53" cy="256.76" r="1.6" fill="#000000"/>
<circle cx="53.48" cy="255.93" r="1.6" fill="#000000"/>
<circle cx="56.43" cy="255" r="1.6" fill="#000000"/>
<circle cx="59.39" cy="254.06" r="1.6" fill="#000000"/>
<circle cx="62.37" cy="253.15" r="1.6" fill="#000000"/>
<circle cx="65.35" cy="252.28" r="1.6" fill="#000000"/>
<circle cx="68.34" cy="251.4" r="1.6" fill="#000000"/>
<circle cx="71.35" cy="250.46" r="1.6" fill="#000000"/>
<circle cx="74.36" cy="249.42" r="1.6" fill="#000000"/>
<circle cx="77.39" cy="248.25" r="1.6" fill="#000000"/>
<circle cx="80.42" cy="246.93" r="1.6" fill="#000000"/>
<circle cx="83.46" cy="245.44" r="1.6" fill="#000000"/>
<circle cx="86.52" cy="243.74" r="1.6" fill="#000000"/>
<circle cx="89.59" cy="241.79" r="1.6" fill="#000000"/>
<circle cx="92.66" cy="239.58" r="1.6" fill="#000000"/>
<circle cx="95.75" cy="237.11" r="1.6" fill="#000000"/>
<circle cx="98.84" cy="234.43" r="1.6" fill="#000000"/>
<circle cx="101.95" cy="231.64" r="1.6" fill="#000000"/>
<circle cx="105.07" cy="229.09" r="1.6" fill="#000000"/>
<circle cx="108.2" cy="227.76" r="1.6" fill="#000000"/>
<circle cx="111.34" cy="229.46" r="1.6" fill="#000000"/>
<circle cx="114.49" cy="236.79" r="1.6" fill="#000000"/>
<circle cx="117.65" cy="252.14" r="1.6" fill="#000000"/>
<circle cx="120.82" cy="273.85" r="1.6" fill="#000000"/>
<circle cx="124.01" cy="294.62" r="1.6" fill="#000000"/>
<circle cx="127.2" cy="308.01" r="1.6" fill="#000000"/>
<circle cx="130.41" cy="313.64" r="1.6" fill="#000000"/>
<circle cx="133.62" cy="314.35" r="1.6" fill="#000000"/>
<circle cx="136.85" cy="312.65" r="1.6" fill="#000000"/>
<circle cx="140.09" cy="310.01" r="1.6" fill="#000000"/>
<circle cx="143.34" cy="307.14" r="1.6" fill="#000000"/>
<circle cx="146.6" cy="304.39" r="1.6" fill="#000000"/>
<circle cx="149.88" cy="301.94" r="1.6" fill="#000000"/>
<circle cx="153.16" cy="299.77" r="1.6" fill="#000000"/>
<circle cx="156.46" cy="297.81" r="1.6" fill="#000000"/>
<circle cx="159.77" cy="295.98" r="1.6" fill="#000000"/>
<circle cx="163.09" cy="294.33" r="1.6" fill="#000000"/>
<circle cx="166.42" cy="292.87" r="1.6" fill="#000000"/>
<circle cx="169.76" cy="291.61" r="1.6" fill="#000000"/>
<circle cx="173.12" cy="290.48" r="1.6" fill="#000000"/>
<circle cx="176.49" cy="289.44" r="1.6" fill="#000000"/>
<circle cx="179.87" cy="288.51" r="1.6" fill="#000000"/>
<circle cx="183.26" cy="287.67" r="1.6" fill="#000000"/>
<circle cx="186.66" cy="286.93" r="1.6" fill="#000000"/>
<circle cx="190.08" cy="286.23" r="1.6" fill="#000000"/>
<circle cx="193.51" cy="285.53" r="1.6" fill="#000000"/>
<circle cx="196.95" cy="284.87" r="1.6" fill="#000000"/>
</g>
<path d="M126.8 229.4H144.3" stroke="#ff0000" stroke-width="1"/>
<circle cx="135.8" cy="229.4" r="1.6" fill="#ff0000"/>
<path d="M126.8 243.8H144.3" stroke="#333" stroke-width="1.2"/>
<circle cx="135.8" cy="243.8" r="1.6" fill="#000"/>
<text x="147.5" y="233.5" font-size="11.7" text-anchor="start" fill="#000" stroke="#000" stroke-width="0.3" textLength="34.5" lengthAdjust="spacingAndGlyphs" >z=2nm</text>
<text x="147.5" y="248.1" font-size="11.7" text-anchor="start" fill="#000" stroke="#000" stroke-width="0.3" textLength="41.5" lengthAdjust="spacingAndGlyphs" >z=20nm</text>
<text x="167.5" y="284.9" font-size="11" text-anchor="start" fill="#000" stroke="#000" stroke-width="0.3" textLength="17.5" lengthAdjust="spacingAndGlyphs" >x20</text>
<text x="214.8" y="210.1" font-size="14" text-anchor="start" fill="#000" stroke="#000" stroke-width="0.3" textLength="18" lengthAdjust="spacingAndGlyphs" >(d)</text>
<rect x="253.5" y="211.5" width="151.5" height="124" fill="none" stroke="#7a7a7a" stroke-width="1.2"/>
<path d="M294.9 335.5v-3M347.5 335.5v-3M400.1 335.5v-3" stroke="#7a7a7a" stroke-width="1.2" fill="none"/>
<path d="M268.6 335.5v-1.6M321.2 335.5v-1.6M373.8 335.5v-1.6" stroke="#7a7a7a" stroke-width="1.2" fill="none"/>
<path d="M294.9 211.5v3M347.5 211.5v3M400.1 211.5v3" stroke="#7a7a7a" stroke-width="1.2" fill="none"/>
<path d="M268.6 211.5v1.6M321.2 211.5v1.6M373.8 211.5v1.6" stroke="#7a7a7a" stroke-width="1.2" fill="none"/>
<path d="M253.5 326.5h3M253.5 280.4h3M253.5 234.3h3" stroke="#7a7a7a" stroke-width="1.2" fill="none"/>
<path d="M253.5 303.45h1.6M253.5 257.35h1.6" stroke="#7a7a7a" stroke-width="1.2" fill="none"/>
<path d="M405 326.5h-3M405 280.4h-3M405 234.3h-3" stroke="#7a7a7a" stroke-width="1.2" fill="none"/>
<path d="M405 303.45h-1.6M405 257.35h-1.6" stroke="#7a7a7a" stroke-width="1.2" fill="none"/>
<text x="250.3" y="330.6" font-size="12" text-anchor="end" fill="#000" stroke="#000" stroke-width="0.3" >0</text>
<text x="250.3" y="284.5" font-size="12" text-anchor="end" fill="#000" stroke="#000" stroke-width="0.3" >1</text>
<text x="250.3" y="238.4" font-size="12" text-anchor="end" fill="#000" stroke="#000" stroke-width="0.3" >2</text>
<text x="294.9" y="347.8" font-size="12" text-anchor="middle" fill="#000" stroke="#000" stroke-width="0.3" >1700</text>
<text x="347.5" y="347.8" font-size="12" text-anchor="middle" fill="#000" stroke="#000" stroke-width="0.3" >1750</text>
<text x="400.1" y="347.8" font-size="12" text-anchor="middle" fill="#000" stroke="#000" stroke-width="0.3" >1800</text>
<text x="276.7" y="368" font-size="11.716955332725616" text-anchor="start" fill="#000" stroke="#000" stroke-width="0.3" textLength="94.21" lengthAdjust="spacingAndGlyphs" >Wavenumber (cm</text>
<text x="371.01" y="362.67" font-size="7.620783956244303" text-anchor="start" fill="#000" stroke="#000" stroke-width="0.3" textLength="5.33" lengthAdjust="spacingAndGlyphs" >-1</text>
<text x="378.06" y="368" font-size="11.716955332725616" text-anchor="start" fill="#000" stroke="#000" stroke-width="0.3" >)</text>
<text transform="translate(239.7 278.14) rotate(-90) scale(1.340 1.125)" font-size="16" font-family='"Liberation Serif", serif' fill="#111">&#949;</text>
<clipPath id="cd"><rect x="253.5" y="211.5" width="151.5" height="124"/></clipPath>
<g clip-path="url(#cd)">
<path d="M252.82 236.7 L253.2 236.65 L253.58 236.6 L253.97 236.56 L254.35 236.51 L254.73 236.46 L255.11 236.42 L255.5 236.37 L255.88 236.32 L256.26 236.27 L256.64 236.22 L257.03 236.17 L257.41 236.12 L257.79 236.07 L258.17 236.02 L258.55 235.96 L258.94 235.91 L259.32 235.86 L259.7 235.8 L260.08 235.75 L260.47 235.69 L260.85 235.64 L261.23 235.58 L261.61 235.53 L262 235.47 L262.38 235.41 L262.76 235.35 L263.14 235.29 L263.52 235.23 L263.91 235.17 L264.29 235.11 L264.67 235.05 L265.05 234.99 L265.44 234.92 L265.82 234.86 L266.2 234.79 L266.58 234.73 L266.97 234.66 L267.35 234.6 L267.73 234.53 L268.11 234.46 L268.49 234.39 L268.88 234.32 L269.26 234.25 L269.64 234.18 L270.02 234.1 L270.41 234.03 L270.79 233.96 L271.17 233.88 L271.55 233.81 L271.94 233.73 L272.32 233.65 L272.7 233.57 L273.08 233.49 L273.46 233.41 L273.85 233.33 L274.23 233.25 L274.61 233.16 L274.99 233.08 L275.38 232.99 L275.76 232.9 L276.14 232.82 L276.52 232.73 L276.91 232.64 L277.29 232.55 L277.67 232.45 L278.05 232.36 L278.43 232.26 L278.82 232.17 L279.2 232.07 L279.58 231.97 L279.96 231.87 L280.35 231.77 L280.73 231.67 L281.11 231.56 L281.49 231.46 L281.88 231.35 L282.26 231.24 L282.64 231.13 L283.02 231.02 L283.4 230.91 L283.79 230.79 L284.17 230.67 L284.55 230.56 L284.93 230.44 L285.32 230.32 L285.7 230.19 L286.08 230.07 L286.46 229.94 L286.85 229.82 L287.23 229.69 L287.61 229.55 L287.99 229.42 L288.37 229.29 L288.76 229.15 L289.14 229.01 L289.52 228.87 L289.9 228.73 L290.29 228.58 L290.67 228.43 L291.05 228.29 L291.43 228.13 L291.82 227.98 L292.2 227.83 L292.58 227.67 L292.96 227.51 L293.34 227.35 L293.73 227.18 L294.11 227.02 L294.49 226.85 L294.87 226.68 L295.26 226.51 L295.64 226.33 L296.02 226.15 L296.4 225.97 L296.79 225.79 L297.17 225.61 L297.55 225.42 L297.93 225.23 L298.31 225.04 L298.7 224.85 L299.08 224.65 L299.46 224.45 L299.84 224.26 L300.23 224.05 L300.61 223.85 L300.99 223.65 L301.37 223.44 L301.76 223.23 L302.14 223.02 L302.52 222.81 L302.9 222.6 L303.28 222.39 L303.67 222.17 L304.05 221.96 L304.43 221.75 L304.81 221.53 L305.2 221.32 L305.58 221.11 L305.96 220.9 L306.34 220.69 L306.73 220.48 L307.11 220.28 L307.49 220.08 L307.87 219.88 L308.25 219.69 L308.64 219.5 L309.02 219.33 L309.4 219.15 L309.78 218.99 L310.17 218.84 L310.55 218.7 L310.93 218.57 L311.31 218.46 L311.7 218.36 L312.08 218.28 L312.46 218.22 L312.84 218.18 L313.22 218.17 L313.61 218.18 L313.99 218.22 L314.37 218.29 L314.75 218.39 L315.14 218.54 L315.52 218.72 L315.9 218.95 L316.28 219.22 L316.67 219.54 L317.05 219.92 L317.43 220.36 L317.81 220.85 L318.19 221.41 L318.58 222.03 L318.96 222.73 L319.34 223.49 L319.72 224.33 L320.11 225.25 L320.49 226.24 L320.87 227.31 L321.25 228.45 L321.64 229.68 L322.02 230.97 L322.4 232.33 L322.78 233.77 L323.16 235.26 L323.55 236.81 L323.93 238.4 L324.31 240.04 L324.69 241.71 L325.08 243.4 L325.46 245.11 L325.84 246.82 L326.22 248.52 L326.61 250.21 L326.99 251.88 L327.37 253.51 L327.75 255.1 L328.13 256.64 L328.52 258.12 L328.9 259.54 L329.28 260.89 L329.66 262.18 L330.05 263.39 L330.43 264.52 L330.81 265.58 L331.19 266.56 L331.57 267.46 L331.96 268.29 L332.34 269.04 L332.72 269.72 L333.1 270.34 L333.49 270.88 L333.87 271.37 L334.25 271.79 L334.63 272.16 L335.02 272.48 L335.4 272.74 L335.78 272.96 L336.16 273.14 L336.54 273.28 L336.93 273.38 L337.31 273.44 L337.69 273.48 L338.07 273.48 L338.46 273.47 L338.84 273.42 L339.22 273.36 L339.6 273.28 L339.99 273.18 L340.37 273.06 L340.75 272.93 L341.13 272.79 L341.51 272.63 L341.9 272.47 L342.28 272.3 L342.66 272.12 L343.04 271.93 L343.43 271.74 L343.81 271.54 L344.19 271.34 L344.57 271.14 L344.96 270.93 L345.34 270.72 L345.72 270.51 L346.1 270.3 L346.48 270.08 L346.87 269.87 L347.25 269.66 L347.63 269.44 L348.01 269.23 L348.4 269.02 L348.78 268.8 L349.16 268.59 L349.54 268.38 L349.93 268.18 L350.31 267.97 L350.69 267.77 L351.07 267.56 L351.45 267.36 L351.84 267.16 L352.22 266.97 L352.6 266.77 L352.98 266.58 L353.37 266.39 L353.75 266.2 L354.13 266.01 L354.51 265.83 L354.9 265.65 L355.28 265.47 L355.66 265.29 L356.04 265.12 L356.42 264.94 L356.81 264.77 L357.19 264.61 L357.57 264.44 L357.95 264.28 L358.34 264.11 L358.72 263.96 L359.1 263.8 L359.48 263.64 L359.87 263.49 L360.25 263.34 L360.63 263.19 L361.01 263.04 L361.39 262.9 L361.78 262.76 L362.16 262.62 L362.54 262.48 L362.92 262.34 L363.31 262.21 L363.69 262.07 L364.07 261.94 L364.45 261.81 L364.84 261.69 L365.22 261.56 L365.6 261.44 L365.98 261.31 L366.36 261.19 L366.75 261.07 L367.13 260.96 L367.51 260.84 L367.89 260.73 L368.28 260.61 L368.66 260.5 L369.04 260.39 L369.42 260.28 L369.81 260.18 L370.19 260.07 L370.57 259.97 L370.95 259.86 L371.33 259.76 L371.72 259.66 L372.1 259.56 L372.48 259.47 L372.86 259.37 L373.25 259.28 L373.63 259.18 L374.01 259.09 L374.39 259 L374.78 258.91 L375.16 258.82 L375.54 258.73 L375.92 258.64 L376.3 258.56 L376.69 258.47 L377.07 258.39 L377.45 258.31 L377.83 258.23 L378.22 258.15 L378.6 258.07 L378.98 257.99 L379.36 257.91 L379.75 257.83 L380.13 257.76 L380.51 257.68 L380.89 257.61 L381.27 257.53 L381.66 257.46 L382.04 257.39 L382.42 257.32 L382.8 257.25 L383.19 257.18 L383.57 257.11 L383.95 257.04 L384.33 256.98 L384.72 256.91 L385.1 256.85 L385.48 256.78 L385.86 256.72 L386.24 256.65 L386.63 256.59 L387.01 256.53 L387.39 256.47 L387.77 256.41 L388.16 256.35 L388.54 256.29 L388.92 256.23 L389.3 256.17 L389.69 256.12 L390.07 256.06 L390.45 256 L390.83 255.95 L391.21 255.89 L391.6 255.84 L391.98 255.78 L392.36 255.73 L392.74 255.68 L393.13 255.63 L393.51 255.57 L393.89 255.52 L394.27 255.47 L394.66 255.42 L395.04 255.37 L395.42 255.32 L395.8 255.27 L396.18 255.23 L396.57 255.18 L396.95 255.13 L397.33 255.09 L397.71 255.04 L398.1 254.99 L398.48 254.95 L398.86 254.9 L399.24 254.86 L399.63 254.81 L400.01 254.77 L400.39 254.73 L400.77 254.68 L401.15 254.64 L401.54 254.6 L401.92 254.56 L402.3 254.52 L402.68 254.48 L403.07 254.43 L403.45 254.39 L403.83 254.35 L404.21 254.32 L404.6 254.28 L404.98 254.24 L405.36 254.2" stroke="#ff0000" stroke-width="1.7" fill="none" stroke-linejoin="round" stroke-linecap="round"/>
<path d="M252.82 324.95 L253.2 324.93 L253.58 324.92 L253.97 324.9 L254.35 324.88 L254.73 324.87 L255.11 324.85 L255.5 324.83 L255.88 324.82 L256.26 324.8 L256.64 324.78 L257.03 324.76 L257.41 324.74 L257.79 324.72 L258.17 324.7 L258.55 324.68 L258.94 324.66 L259.32 324.64 L259.7 324.62 L260.08 324.6 L260.47 324.58 L260.85 324.56 L261.23 324.53 L261.61 324.51 L262 324.49 L262.38 324.46 L262.76 324.44 L263.14 324.42 L263.52 324.39 L263.91 324.37 L264.29 324.34 L264.67 324.31 L265.05 324.29 L265.44 324.26 L265.82 324.23 L266.2 324.21 L266.58 324.18 L266.97 324.15 L267.35 324.12 L267.73 324.09 L268.11 324.06 L268.49 324.03 L268.88 323.99 L269.26 323.96 L269.64 323.93 L270.02 323.89 L270.41 323.86 L270.79 323.82 L271.17 323.79 L271.55 323.75 L271.94 323.71 L272.32 323.68 L272.7 323.64 L273.08 323.6 L273.46 323.56 L273.85 323.52 L274.23 323.47 L274.61 323.43 L274.99 323.39 L275.38 323.34 L275.76 323.3 L276.14 323.25 L276.52 323.2 L276.91 323.15 L277.29 323.1 L277.67 323.05 L278.05 323 L278.43 322.95 L278.82 322.89 L279.2 322.84 L279.58 322.78 L279.96 322.72 L280.35 322.66 L280.73 322.6 L281.11 322.54 L281.49 322.47 L281.88 322.41 L282.26 322.34 L282.64 322.27 L283.02 322.2 L283.4 322.13 L283.79 322.06 L284.17 321.98 L284.55 321.9 L284.93 321.83 L285.32 321.74 L285.7 321.66 L286.08 321.57 L286.46 321.49 L286.85 321.4 L287.23 321.3 L287.61 321.21 L287.99 321.11 L288.37 321.01 L288.76 320.91 L289.14 320.8 L289.52 320.69 L289.9 320.58 L290.29 320.47 L290.67 320.35 L291.05 320.23 L291.43 320.1 L291.82 319.98 L292.2 319.84 L292.58 319.71 L292.96 319.57 L293.34 319.42 L293.73 319.27 L294.11 319.12 L294.49 318.96 L294.87 318.8 L295.26 318.63 L295.64 318.46 L296.02 318.28 L296.4 318.1 L296.79 317.91 L297.17 317.72 L297.55 317.51 L297.93 317.31 L298.31 317.09 L298.7 316.87 L299.08 316.64 L299.46 316.4 L299.84 316.16 L300.23 315.9 L300.61 315.64 L300.99 315.37 L301.37 315.09 L301.76 314.8 L302.14 314.5 L302.52 314.18 L302.9 313.86 L303.28 313.53 L303.67 313.18 L304.05 312.82 L304.43 312.45 L304.81 312.07 L305.2 311.67 L305.58 311.25 L305.96 310.82 L306.34 310.38 L306.73 309.92 L307.11 309.44 L307.49 308.94 L307.87 308.43 L308.25 307.89 L308.64 307.34 L309.02 306.77 L309.4 306.17 L309.78 305.55 L310.17 304.91 L310.55 304.25 L310.93 303.56 L311.31 302.85 L311.7 302.12 L312.08 301.35 L312.46 300.57 L312.84 299.75 L313.22 298.91 L313.61 298.05 L313.99 297.15 L314.37 296.24 L314.75 295.29 L315.14 294.32 L315.52 293.33 L315.9 292.31 L316.28 291.27 L316.67 290.22 L317.05 289.14 L317.43 288.05 L317.81 286.95 L318.19 285.85 L318.58 284.73 L318.96 283.62 L319.34 282.52 L319.72 281.43 L320.11 280.36 L320.49 279.31 L320.87 278.29 L321.25 277.32 L321.64 276.38 L322.02 275.51 L322.4 274.69 L322.78 273.95 L323.16 273.28 L323.55 272.69 L323.93 272.19 L324.31 271.79 L324.69 271.49 L325.08 271.29 L325.46 271.19 L325.84 271.2 L326.22 271.31 L326.61 271.53 L326.99 271.85 L327.37 272.27 L327.75 272.78 L328.13 273.38 L328.52 274.06 L328.9 274.82 L329.28 275.65 L329.66 276.53 L330.05 277.47 L330.43 278.45 L330.81 279.48 L331.19 280.53 L331.57 281.61 L331.96 282.7 L332.34 283.8 L332.72 284.91 L333.1 286.02 L333.49 287.13 L333.87 288.23 L334.25 289.32 L334.63 290.39 L335.02 291.44 L335.4 292.48 L335.78 293.49 L336.16 294.48 L336.54 295.45 L336.93 296.39 L337.31 297.3 L337.69 298.19 L338.07 299.05 L338.46 299.89 L338.84 300.7 L339.22 301.48 L339.6 302.24 L339.99 302.97 L340.37 303.68 L340.75 304.36 L341.13 305.02 L341.51 305.65 L341.9 306.27 L342.28 306.86 L342.66 307.43 L343.04 307.98 L343.43 308.51 L343.81 309.02 L344.19 309.52 L344.57 309.99 L344.96 310.45 L345.34 310.89 L345.72 311.32 L346.1 311.73 L346.48 312.13 L346.87 312.51 L347.25 312.88 L347.63 313.24 L348.01 313.58 L348.4 313.91 L348.78 314.24 L349.16 314.55 L349.54 314.84 L349.93 315.13 L350.31 315.41 L350.69 315.68 L351.07 315.94 L351.45 316.2 L351.84 316.44 L352.22 316.68 L352.6 316.9 L352.98 317.13 L353.37 317.34 L353.75 317.55 L354.13 317.75 L354.51 317.94 L354.9 318.13 L355.28 318.31 L355.66 318.49 L356.04 318.66 L356.42 318.83 L356.81 318.99 L357.19 319.15 L357.57 319.3 L357.95 319.45 L358.34 319.59 L358.72 319.73 L359.1 319.86 L359.48 320 L359.87 320.12 L360.25 320.25 L360.63 320.37 L361.01 320.49 L361.39 320.6 L361.78 320.71 L362.16 320.82 L362.54 320.92 L362.92 321.03 L363.31 321.13 L363.69 321.22 L364.07 321.32 L364.45 321.41 L364.84 321.5 L365.22 321.59 L365.6 321.67 L365.98 321.76 L366.36 321.84 L366.75 321.92 L367.13 321.99 L367.51 322.07 L367.89 322.14 L368.28 322.21 L368.66 322.28 L369.04 322.35 L369.42 322.42 L369.81 322.49 L370.19 322.55 L370.57 322.61 L370.95 322.67 L371.33 322.73 L371.72 322.79 L372.1 322.85 L372.48 322.9 L372.86 322.96 L373.25 323.01 L373.63 323.06 L374.01 323.11 L374.39 323.16 L374.78 323.21 L375.16 323.26 L375.54 323.3 L375.92 323.35 L376.3 323.39 L376.69 323.44 L377.07 323.48 L377.45 323.52 L377.83 323.56 L378.22 323.6 L378.6 323.64 L378.98 323.68 L379.36 323.72 L379.75 323.76 L380.13 323.79 L380.51 323.83 L380.89 323.87 L381.27 323.9 L381.66 323.93 L382.04 323.97 L382.42 324 L382.8 324.03 L383.19 324.06 L383.57 324.09 L383.95 324.12 L384.33 324.15 L384.72 324.18 L385.1 324.21 L385.48 324.24 L385.86 324.27 L386.24 324.29 L386.63 324.32 L387.01 324.34 L387.39 324.37 L387.77 324.4 L388.16 324.42 L388.54 324.44 L388.92 324.47 L389.3 324.49 L389.69 324.51 L390.07 324.54 L390.45 324.56 L390.83 324.58 L391.21 324.6 L391.6 324.62 L391.98 324.64 L392.36 324.67 L392.74 324.69 L393.13 324.71 L393.51 324.72 L393.89 324.74 L394.27 324.76 L394.66 324.78 L395.04 324.8 L395.42 324.82 L395.8 324.84 L396.18 324.85 L396.57 324.87 L396.95 324.89 L397.33 324.9 L397.71 324.92 L398.1 324.94 L398.48 324.95 L398.86 324.97 L399.24 324.98 L399.63 325 L400.01 325.01 L400.39 325.03 L400.77 325.04 L401.15 325.06 L401.54 325.07 L401.92 325.09 L402.3 325.1 L402.68 325.11 L403.07 325.13 L403.45 325.14 L403.83 325.15 L404.21 325.16 L404.6 325.18 L404.98 325.19 L405.36 325.2" stroke="#0000ff" stroke-width="1.7" fill="none" stroke-linejoin="round" stroke-linecap="round"/>
</g>
<text transform="translate(325.8 234.6) scale(1.300 1.087)" font-size="16" font-family='"Liberation Serif", serif' fill="#111">&#949;</text>
<text x="334.2" y="239.1" font-size="8.4" text-anchor="start" fill="#000" stroke="#000" stroke-width="0.3" >1</text>
<text transform="translate(342.42 300.8) scale(1.280 1.050)" font-size="16" font-family='"Liberation Serif", serif' fill="#111">&#949;</text>
<text x="350.5" y="305.9" font-size="8.4" text-anchor="start" fill="#000" stroke="#000" stroke-width="0.3" >2</text>
<text x="1.4" y="388.6" font-size="14" text-anchor="start" fill="#000" stroke="#000" stroke-width="0.3" textLength="16.9" lengthAdjust="spacingAndGlyphs" >(e)</text>
<rect x="38.4" y="388.4" width="158.9" height="127.9" fill="none" stroke="#7a7a7a" stroke-width="1.2"/>
<path d="M82.3 516.3v-3M137.1 516.3v-3M191.9 516.3v-3" stroke="#7a7a7a" stroke-width="1.2" fill="none"/>
<path d="M54.9 516.3v-1.6M109.7 516.3v-1.6M164.5 516.3v-1.6" stroke="#7a7a7a" stroke-width="1.2" fill="none"/>
<path d="M82.3 388.4v3M137.1 388.4v3M191.9 388.4v3" stroke="#7a7a7a" stroke-width="1.2" fill="none"/>
<path d="M54.9 388.4v1.6M109.7 388.4v1.6M164.5 388.4v1.6" stroke="#7a7a7a" stroke-width="1.2" fill="none"/>
<path d="M38.4 508.9h3M38.4 478.8h3M38.4 448.7h3M38.4 418.6h3" stroke="#7a7a7a" stroke-width="1.2" fill="none"/>
<path d="M38.4 493.85h1.6M38.4 463.75h1.6M38.4 433.65h1.6M38.4 403.55h1.6" stroke="#7a7a7a" stroke-width="1.2" fill="none"/>
<path d="M197.3 508.9h-3M197.3 478.8h-3M197.3 448.7h-3M197.3 418.6h-3" stroke="#7a7a7a" stroke-width="1.2" fill="none"/>
<path d="M197.3 493.85h-1.6M197.3 463.75h-1.6M197.3 433.65h-1.6M197.3 403.55h-1.6" stroke="#7a7a7a" stroke-width="1.2" fill="none"/>
<text x="35" y="513" font-size="12" text-anchor="end" fill="#000" stroke="#000" stroke-width="0.3" >0</text>
<text x="35" y="482.9" font-size="12" text-anchor="end" fill="#000" stroke="#000" stroke-width="0.3" >2</text>
<text x="35" y="452.8" font-size="12" text-anchor="end" fill="#000" stroke="#000" stroke-width="0.3" >4</text>
<text x="35" y="422.7" font-size="12" text-anchor="end" fill="#000" stroke="#000" stroke-width="0.3" >6</text>
<text x="35" y="392.6" font-size="12" text-anchor="end" fill="#000" stroke="#000" stroke-width="0.3" >8</text>
<text x="82.3" y="529.5" font-size="12" text-anchor="middle" fill="#000" stroke="#000" stroke-width="0.3" >1700</text>
<text x="137.1" y="529.5" font-size="12" text-anchor="middle" fill="#000" stroke="#000" stroke-width="0.3" >1750</text>
<text x="191.9" y="529.5" font-size="12" text-anchor="middle" fill="#000" stroke="#000" stroke-width="0.3" >1800</text>
<text x="63" y="549.8" font-size="12.300000000000004" text-anchor="start" fill="#000" stroke="#000" stroke-width="0.3" textLength="98.9" lengthAdjust="spacingAndGlyphs" >Wavenumber (cm</text>
<text x="162" y="544.2" font-size="8.000000000000002" text-anchor="start" fill="#000" stroke="#000" stroke-width="0.3" textLength="5.6" lengthAdjust="spacingAndGlyphs" >-1</text>
<text x="169.4" y="549.8" font-size="12.300000000000004" text-anchor="start" fill="#000" stroke="#000" stroke-width="0.3" >)</text>
<text x="21.1" y="452.6" font-size="12.8" text-anchor="middle" fill="#000" stroke="#000" stroke-width="0.3" textLength="90" lengthAdjust="spacingAndGlyphs" transform="rotate(-90 21.1 452.6)">Absorption (nW)</text>
<clipPath id="ce"><rect x="38.4" y="388.4" width="158.9" height="127.9"/></clipPath>
<g clip-path="url(#ce)">
<path d="M45.77 504.78 L48.82 504.6 L51.88 504.41 L54.95 504.21 L58.03 503.97 L61.12 503.68 L64.22 503.3 L67.33 502.75 L70.45 501.94 L73.58 500.87 L76.73 499.59 L79.88 498.13 L83.05 496.45 L86.22 494.41 L89.41 491.7 L92.6 487.96 L95.81 482.91 L99.03 476.15 L102.26 467.03 L105.5 454.85 L108.76 439.34 L112.02 422 L115.29 408.05 L118.58 404.86 L121.88 414.62 L125.19 431.49 L128.51 448.51 L131.84 462.4 L135.18 472.79 L138.54 480.51 L141.91 486.31 L145.29 490.6 L148.68 493.73 L152.08 496.1 L155.5 497.95 L158.92 499.42 L162.36 500.59 L165.81 501.54 L169.28 502.35 L172.75 503.03 L176.24 503.61 L179.74 504.12 L183.26 504.58 L186.78 504.95 L190.32 505.28 L193.87 505.58 L197.44 505.85" stroke="#0000ff" stroke-width="0.8" fill="none" stroke-linejoin="round" stroke-linecap="round"/>
<circle cx="45.77" cy="504.78" r="1.55" fill="#0000ff"/>
<circle cx="48.82" cy="504.6" r="1.55" fill="#0000ff"/>
<circle cx="51.88" cy="504.41" r="1.55" fill="#0000ff"/>
<circle cx="54.95" cy="504.21" r="1.55" fill="#0000ff"/>
<circle cx="58.03" cy="503.97" r="1.55" fill="#0000ff"/>
<circle cx="61.12" cy="503.68" r="1.55" fill="#0000ff"/>
<circle cx="64.22" cy="503.3" r="1.55" fill="#0000ff"/>
<circle cx="67.33" cy="502.75" r="1.55" fill="#0000ff"/>
<circle cx="70.45" cy="501.94" r="1.55" fill="#0000ff"/>
<circle cx="73.58" cy="500.87" r="1.55" fill="#0000ff"/>
<circle cx="76.73" cy="499.59" r="1.55" fill="#0000ff"/>
<circle cx="79.88" cy="498.13" r="1.55" fill="#0000ff"/>
<circle cx="83.05" cy="496.45" r="1.55" fill="#0000ff"/>
<circle cx="86.22" cy="494.41" r="1.55" fill="#0000ff"/>
<circle cx="89.41" cy="491.7" r="1.55" fill="#0000ff"/>
<circle cx="92.6" cy="487.96" r="1.55" fill="#0000ff"/>
<circle cx="95.81" cy="482.91" r="1.55" fill="#0000ff"/>
<circle cx="99.03" cy="476.15" r="1.55" fill="#0000ff"/>
<circle cx="102.26" cy="467.03" r="1.55" fill="#0000ff"/>
<circle cx="105.5" cy="454.85" r="1.55" fill="#0000ff"/>
<circle cx="108.76" cy="439.34" r="1.55" fill="#0000ff"/>
<circle cx="112.02" cy="422" r="1.55" fill="#0000ff"/>
<circle cx="115.29" cy="408.05" r="1.55" fill="#0000ff"/>
<circle cx="118.58" cy="404.86" r="1.55" fill="#0000ff"/>
<circle cx="121.88" cy="414.62" r="1.55" fill="#0000ff"/>
<circle cx="125.19" cy="431.49" r="1.55" fill="#0000ff"/>
<circle cx="128.51" cy="448.51" r="1.55" fill="#0000ff"/>
<circle cx="131.84" cy="462.4" r="1.55" fill="#0000ff"/>
<circle cx="135.18" cy="472.79" r="1.55" fill="#0000ff"/>
<circle cx="138.54" cy="480.51" r="1.55" fill="#0000ff"/>
<circle cx="141.91" cy="486.31" r="1.55" fill="#0000ff"/>
<circle cx="145.29" cy="490.6" r="1.55" fill="#0000ff"/>
<circle cx="148.68" cy="493.73" r="1.55" fill="#0000ff"/>
<circle cx="152.08" cy="496.1" r="1.55" fill="#0000ff"/>
<circle cx="155.5" cy="497.95" r="1.55" fill="#0000ff"/>
<circle cx="158.92" cy="499.42" r="1.55" fill="#0000ff"/>
<circle cx="162.36" cy="500.59" r="1.55" fill="#0000ff"/>
<circle cx="165.81" cy="501.54" r="1.55" fill="#0000ff"/>
<circle cx="169.28" cy="502.35" r="1.55" fill="#0000ff"/>
<circle cx="172.75" cy="503.03" r="1.55" fill="#0000ff"/>
<circle cx="176.24" cy="503.61" r="1.55" fill="#0000ff"/>
<circle cx="179.74" cy="504.12" r="1.55" fill="#0000ff"/>
<circle cx="183.26" cy="504.58" r="1.55" fill="#0000ff"/>
<circle cx="186.78" cy="504.95" r="1.55" fill="#0000ff"/>
<circle cx="190.32" cy="505.28" r="1.55" fill="#0000ff"/>
<circle cx="193.87" cy="505.58" r="1.55" fill="#0000ff"/>
<circle cx="197.44" cy="505.85" r="1.55" fill="#0000ff"/>
<path d="M45.77 506.52 L48.82 506.36 L51.88 506.17 L54.95 505.96 L58.03 505.73 L61.12 505.45 L64.22 505.09 L67.33 504.59 L70.45 503.9 L73.58 503.1 L76.73 502.26 L79.88 501.38 L83.05 500.27 L86.22 498.77 L89.41 496.74 L92.6 494.05 L95.81 490.53 L99.03 485.9 L102.26 479.63 L105.5 471.15 L108.76 460.17 L112.02 447.74 L115.29 437.41 L118.58 434.4 L121.88 440.73 L125.19 452.52 L128.51 464.67 L131.84 474.83 L135.18 482.59 L138.54 488.28 L141.91 492.43 L145.29 495.51 L148.68 497.82 L152.08 499.55 L155.5 500.91 L158.92 502.12 L162.36 503.21 L165.81 504.15 L169.28 504.9 L172.75 505.5 L176.24 505.98 L179.74 506.39 L183.26 506.75 L186.78 507.07 L190.32 507.34 L193.87 507.56 L197.44 507.75" stroke="#000000" stroke-width="0.8" fill="none" stroke-linejoin="round" stroke-linecap="round"/>
<circle cx="45.77" cy="506.52" r="1.6" fill="#000000"/>
<circle cx="48.82" cy="506.36" r="1.6" fill="#000000"/>
<circle cx="51.88" cy="506.17" r="1.6" fill="#000000"/>
<circle cx="54.95" cy="505.96" r="1.6" fill="#000000"/>
<circle cx="58.03" cy="505.73" r="1.6" fill="#000000"/>
<circle cx="61.12" cy="505.45" r="1.6" fill="#000000"/>
<circle cx="64.22" cy="505.09" r="1.6" fill="#000000"/>
<circle cx="67.33" cy="504.59" r="1.6" fill="#000000"/>
<circle cx="70.45" cy="503.9" r="1.6" fill="#000000"/>
<circle cx="73.58" cy="503.1" r="1.6" fill="#000000"/>
<circle cx="76.73" cy="502.26" r="1.6" fill="#000000"/>
<circle cx="79.88" cy="501.38" r="1.6" fill="#000000"/>
<circle cx="83.05" cy="500.27" r="1.6" fill="#000000"/>
<circle cx="86.22" cy="498.77" r="1.6" fill="#000000"/>
<circle cx="89.41" cy="496.74" r="1.6" fill="#000000"/>
<circle cx="92.6" cy="494.05" r="1.6" fill="#000000"/>
<circle cx="95.81" cy="490.53" r="1.6" fill="#000000"/>
<circle cx="99.03" cy="485.9" r="1.6" fill="#000000"/>
<circle cx="102.26" cy="479.63" r="1.6" fill="#000000"/>
<circle cx="105.5" cy="471.15" r="1.6" fill="#000000"/>
<circle cx="108.76" cy="460.17" r="1.6" fill="#000000"/>
<circle cx="112.02" cy="447.74" r="1.6" fill="#000000"/>
<circle cx="115.29" cy="437.41" r="1.6" fill="#000000"/>
<circle cx="118.58" cy="434.4" r="1.6" fill="#000000"/>
<circle cx="121.88" cy="440.73" r="1.6" fill="#000000"/>
<circle cx="125.19" cy="452.52" r="1.6" fill="#000000"/>
<circle cx="128.51" cy="464.67" r="1.6" fill="#000000"/>
<circle cx="131.84" cy="474.83" r="1.6" fill="#000000"/>
<circle cx="135.18" cy="482.59" r="1.6" fill="#000000"/>
<circle cx="138.54" cy="488.28" r="1.6" fill="#000000"/>
<circle cx="141.91" cy="492.43" r="1.6" fill="#000000"/>
<circle cx="145.29" cy="495.51" r="1.6" fill="#000000"/>
<circle cx="148.68" cy="497.82" r="1.6" fill="#000000"/>
<circle cx="152.08" cy="499.55" r="1.6" fill="#000000"/>
<circle cx="155.5" cy="500.91" r="1.6" fill="#000000"/>
<circle cx="158.92" cy="502.12" r="1.6" fill="#000000"/>
<circle cx="162.36" cy="503.21" r="1.6" fill="#000000"/>
<circle cx="165.81" cy="504.15" r="1.6" fill="#000000"/>
<circle cx="169.28" cy="504.9" r="1.6" fill="#000000"/>
<circle cx="172.75" cy="505.5" r="1.6" fill="#000000"/>
<circle cx="176.24" cy="505.98" r="1.6" fill="#000000"/>
<circle cx="179.74" cy="506.39" r="1.6" fill="#000000"/>
<circle cx="183.26" cy="506.75" r="1.6" fill="#000000"/>
<circle cx="186.78" cy="507.07" r="1.6" fill="#000000"/>
<circle cx="190.32" cy="507.34" r="1.6" fill="#000000"/>
<circle cx="193.87" cy="507.56" r="1.6" fill="#000000"/>
<circle cx="197.44" cy="507.75" r="1.6" fill="#000000"/>
</g>
<path d="M130.1 398.1H147.8" stroke="#0000ff" stroke-width="1"/>
<circle cx="139.3" cy="398.1" r="1.6" fill="#0000ff"/>
<path d="M130.1 412.8H147.8" stroke="#000" stroke-width="1"/>
<circle cx="139.3" cy="412.8" r="1.6" fill="#000"/>
<text x="150" y="402.7" font-size="11.7" text-anchor="start" fill="#000" stroke="#000" stroke-width="0.3" textLength="35.5" lengthAdjust="spacingAndGlyphs" >z=2nm</text>
<text x="150" y="417.4" font-size="11.7" text-anchor="start" fill="#000" stroke="#000" stroke-width="0.3" textLength="43" lengthAdjust="spacingAndGlyphs" >z=20nm</text>
<text x="214.6" y="385.9" font-size="14" text-anchor="start" fill="#000" stroke="#000" stroke-width="0.3" textLength="15.4" lengthAdjust="spacingAndGlyphs" >(f)</text>
<rect x="256.6" y="390.3" width="159.2" height="128.1" fill="none" stroke="#7a7a7a" stroke-width="1.2"/>
<path d="M294.55 518.4v-3M332.6 518.4v-3M370.65 518.4v-3M408.7 518.4v-3" stroke="#7a7a7a" stroke-width="1.2" fill="none"/>
<path d="M275.52 518.4v-1.6M313.57 518.4v-1.6M351.62 518.4v-1.6M389.68 518.4v-1.6" stroke="#7a7a7a" stroke-width="1.2" fill="none"/>
<path d="M294.55 390.3v3M332.6 390.3v3M370.65 390.3v3M408.7 390.3v3" stroke="#7a7a7a" stroke-width="1.2" fill="none"/>
<path d="M275.52 390.3v1.6M313.57 390.3v1.6M351.62 390.3v1.6M389.68 390.3v1.6" stroke="#7a7a7a" stroke-width="1.2" fill="none"/>
<path d="M256.6 514.1h3M256.6 472.85h3M256.6 431.6h3" stroke="#7a7a7a" stroke-width="1.2" fill="none"/>
<path d="M256.6 493.48h1.6M256.6 452.23h1.6M256.6 410.98h1.6" stroke="#7a7a7a" stroke-width="1.2" fill="none"/>
<path d="M415.8 517.8h-3M415.8 486h-3M415.8 454.2h-3M415.8 422.4h-3M415.8 390.6h-3" stroke="#7a7a7a" stroke-width="1.2" fill="none"/>
<path d="M415.8 501.9h-1.6M415.8 470.1h-1.6M415.8 438.3h-1.6M415.8 406.5h-1.6" stroke="#7a7a7a" stroke-width="1.2" fill="none"/>
<text x="253" y="518.2" font-size="12" text-anchor="end" fill="#000" stroke="#000" stroke-width="0.3" >0.0</text>
<text x="253" y="476.95" font-size="12" text-anchor="end" fill="#000" stroke="#000" stroke-width="0.3" >0.5</text>
<text x="253" y="435.7" font-size="12" text-anchor="end" fill="#000" stroke="#000" stroke-width="0.3" >1.0</text>
<text x="253" y="394.45" font-size="12" text-anchor="end" fill="#000" stroke="#000" stroke-width="0.3" >1.5</text>
<text x="418.5" y="521.9" font-size="12" text-anchor="start" fill="#000" stroke="#000" stroke-width="0.3" >0</text>
<text x="418.5" y="490.1" font-size="12" text-anchor="start" fill="#000" stroke="#000" stroke-width="0.3" >2</text>
<text x="418.5" y="458.3" font-size="12" text-anchor="start" fill="#000" stroke="#000" stroke-width="0.3" >4</text>
<text x="418.5" y="426.5" font-size="12" text-anchor="start" fill="#000" stroke="#000" stroke-width="0.3" >6</text>
<text x="418.5" y="394.7" font-size="12" text-anchor="start" fill="#000" stroke="#000" stroke-width="0.3" >8</text>
<text x="256.5" y="531.6" font-size="12" text-anchor="middle" fill="#000" stroke="#000" stroke-width="0.3" >0</text>
<text x="294.55" y="531.6" font-size="12" text-anchor="middle" fill="#000" stroke="#000" stroke-width="0.3" >5</text>
<text x="332.6" y="531.6" font-size="12" text-anchor="middle" fill="#000" stroke="#000" stroke-width="0.3" >10</text>
<text x="370.65" y="531.6" font-size="12" text-anchor="middle" fill="#000" stroke="#000" stroke-width="0.3" >15</text>
<text x="408.7" y="531.6" font-size="12" text-anchor="middle" fill="#000" stroke="#000" stroke-width="0.3" >20</text>
<text x="336.05" y="550.9" font-size="12" text-anchor="middle" fill="#000" stroke="#000" stroke-width="0.3" textLength="35.5" lengthAdjust="spacingAndGlyphs" >z (nm)</text>
<text x="229.5" y="453.9" font-size="12" text-anchor="middle" fill="#000" stroke="#000" stroke-width="0.3" textLength="55.5" lengthAdjust="spacingAndGlyphs" transform="rotate(-90 229.5 453.9)">Force (fN)</text>
<text x="440.6" y="452.1" font-size="12.8" text-anchor="middle" fill="#000" stroke="#000" stroke-width="0.3" textLength="90.8" lengthAdjust="spacingAndGlyphs" transform="rotate(-90 440.6 452.1)">Absorption (nW)</text>
<path d="M264.11 401.1 L264.84 401.97 L265.56 402.81 L266.29 403.64 L267.02 404.46 L267.74 405.25 L268.47 406.02 L269.2 406.77 L269.92 407.5 L270.65 408.2 L271.38 408.89 L272.1 409.54 L272.83 410.18 L273.56 410.81 L274.28 411.42 L275.01 412.01 L275.74 412.58 L276.46 413.14 L277.19 413.69 L277.92 414.22 L278.64 414.73 L279.37 415.23 L280.09 415.71 L280.82 416.18 L281.55 416.64 L282.27 417.08 L283 417.51 L283.73 417.94 L284.45 418.35 L285.18 418.75 L285.91 419.15 L286.63 419.54 L287.36 419.92 L288.09 420.3 L288.81 420.67 L289.54 421.03 L290.27 421.38 L290.99 421.73 L291.72 422.07 L292.45 422.4 L293.17 422.72 L293.9 423.03 L294.63 423.33 L295.35 423.62 L296.08 423.9 L296.81 424.17 L297.53 424.43 L298.26 424.69 L298.99 424.94 L299.71 425.19 L300.44 425.43 L301.17 425.67 L301.89 425.91 L302.62 426.15 L303.35 426.38 L304.07 426.62 L304.8 426.85 L305.53 427.07 L306.25 427.3 L306.98 427.51 L307.7 427.73 L308.43 427.93 L309.16 428.14 L309.88 428.33 L310.61 428.52 L311.34 428.7 L312.06 428.88 L312.79 429.06 L313.52 429.23 L314.24 429.4 L314.97 429.56 L315.7 429.72 L316.42 429.89 L317.15 430.05 L317.88 430.21 L318.6 430.37 L319.33 430.53 L320.06 430.69 L320.78 430.84 L321.51 430.99 L322.24 431.14 L322.96 431.29 L323.69 431.44 L324.42 431.59 L325.14 431.73 L325.87 431.87 L326.6 432.02 L327.32 432.16 L328.05 432.31 L328.78 432.45 L329.5 432.58 L330.23 432.71 L330.96 432.84 L331.68 432.96 L332.41 433.07 L333.14 433.17 L333.86 433.27 L334.59 433.36 L335.32 433.44 L336.04 433.52 L336.77 433.6 L337.49 433.68 L338.22 433.76 L338.95 433.84 L339.67 433.93 L340.4 434.03 L341.13 434.12 L341.85 434.23 L342.58 434.33 L343.31 434.44 L344.03 434.55 L344.76 434.66 L345.49 434.77 L346.21 434.88 L346.94 434.98 L347.67 435.08 L348.39 435.17 L349.12 435.26 L349.85 435.35 L350.57 435.44 L351.3 435.52 L352.03 435.61 L352.75 435.69 L353.48 435.77 L354.21 435.86 L354.93 435.94 L355.66 436.03 L356.39 436.12 L357.11 436.21 L357.84 436.3 L358.57 436.39 L359.29 436.48 L360.02 436.57 L360.75 436.66 L361.47 436.74 L362.2 436.82 L362.93 436.89 L363.65 436.96 L364.38 437.02 L365.11 437.08 L365.83 437.13 L366.56 437.19 L367.28 437.24 L368.01 437.29 L368.74 437.35 L369.46 437.4 L370.19 437.46 L370.92 437.52 L371.64 437.59 L372.37 437.66 L373.1 437.73 L373.82 437.8 L374.55 437.88 L375.28 437.95 L376 438.02 L376.73 438.08 L377.46 438.14 L378.18 438.19 L378.91 438.24 L379.64 438.29 L380.36 438.33 L381.09 438.36 L381.82 438.4 L382.54 438.44 L383.27 438.47 L384 438.51 L384.72 438.54 L385.45 438.58 L386.18 438.62 L386.9 438.65 L387.63 438.69 L388.36 438.73 L389.08 438.76 L389.81 438.8 L390.54 438.84 L391.26 438.88 L391.99 438.92 L392.72 438.96 L393.44 439 L394.17 439.04 L394.89 439.09 L395.62 439.14 L396.35 439.19 L397.07 439.24 L397.8 439.29 L398.53 439.34 L399.25 439.38 L399.98 439.43 L400.71 439.48 L401.43 439.52 L402.16 439.56 L402.89 439.6 L403.61 439.64 L404.34 439.68 L405.07 439.72 L405.79 439.76 L406.52 439.8 L407.25 439.83 L407.97 439.87 L408.7 439.9" stroke="#0000ff" stroke-width="0.95" fill="none" stroke-linejoin="round" stroke-linecap="round"/>
<circle cx="264.11" cy="401.1" r="1.6" fill="#0000ff"/>
<circle cx="271.72" cy="409.2" r="1.6" fill="#0000ff"/>
<circle cx="279.33" cy="415.2" r="1.6" fill="#0000ff"/>
<circle cx="286.94" cy="419.7" r="1.6" fill="#0000ff"/>
<circle cx="294.55" cy="423.3" r="1.6" fill="#0000ff"/>
<circle cx="302.16" cy="426" r="1.6" fill="#0000ff"/>
<circle cx="309.77" cy="428.3" r="1.6" fill="#0000ff"/>
<circle cx="317.38" cy="430.1" r="1.6" fill="#0000ff"/>
<circle cx="324.99" cy="431.7" r="1.6" fill="#0000ff"/>
<circle cx="332.6" cy="433.1" r="1.6" fill="#0000ff"/>
<circle cx="340.21" cy="434" r="1.6" fill="#0000ff"/>
<circle cx="347.82" cy="435.1" r="1.6" fill="#0000ff"/>
<circle cx="355.43" cy="436" r="1.6" fill="#0000ff"/>
<circle cx="363.04" cy="436.9" r="1.6" fill="#0000ff"/>
<circle cx="370.65" cy="437.5" r="1.6" fill="#0000ff"/>
<circle cx="378.26" cy="438.2" r="1.6" fill="#0000ff"/>
<circle cx="385.87" cy="438.6" r="1.6" fill="#0000ff"/>
<circle cx="393.48" cy="439" r="1.6" fill="#0000ff"/>
<circle cx="401.09" cy="439.5" r="1.6" fill="#0000ff"/>
<circle cx="408.7" cy="439.9" r="1.6" fill="#0000ff"/>
<path d="M264.11 407.1 L264.84 411.18 L265.56 415.14 L266.29 418.98 L267.02 422.67 L267.74 426.21 L268.47 429.59 L269.2 432.78 L269.92 435.78 L270.65 438.58 L271.38 441.16 L272.1 443.52 L272.83 445.75 L273.56 447.86 L274.28 449.86 L275.01 451.75 L275.74 453.55 L276.46 455.26 L277.19 456.89 L277.92 458.45 L278.64 459.94 L279.37 461.37 L280.09 462.75 L280.82 464.07 L281.55 465.34 L282.27 466.55 L283 467.72 L283.73 468.85 L284.45 469.93 L285.18 470.98 L285.91 472 L286.63 472.99 L287.36 473.96 L288.09 474.9 L288.81 475.82 L289.54 476.71 L290.27 477.58 L290.99 478.42 L291.72 479.23 L292.45 480.02 L293.17 480.77 L293.9 481.49 L294.63 482.17 L295.35 482.82 L296.08 483.45 L296.81 484.06 L297.53 484.64 L298.26 485.2 L298.99 485.75 L299.71 486.28 L300.44 486.8 L301.17 487.31 L301.89 487.82 L302.62 488.31 L303.35 488.81 L304.07 489.29 L304.8 489.77 L305.53 490.23 L306.25 490.69 L306.98 491.13 L307.7 491.56 L308.43 491.98 L309.16 492.38 L309.88 492.76 L310.61 493.13 L311.34 493.48 L312.06 493.83 L312.79 494.17 L313.52 494.49 L314.24 494.81 L314.97 495.12 L315.7 495.42 L316.42 495.72 L317.15 496.01 L317.88 496.29 L318.6 496.57 L319.33 496.85 L320.06 497.11 L320.78 497.37 L321.51 497.63 L322.24 497.88 L322.96 498.13 L323.69 498.37 L324.42 498.61 L325.14 498.85 L325.87 499.08 L326.6 499.31 L327.32 499.54 L328.05 499.76 L328.78 499.98 L329.5 500.2 L330.23 500.41 L330.96 500.62 L331.68 500.83 L332.41 501.04 L333.14 501.26 L333.86 501.47 L334.59 501.68 L335.32 501.89 L336.04 502.1 L336.77 502.31 L337.49 502.51 L338.22 502.71 L338.95 502.89 L339.67 503.07 L340.4 503.24 L341.13 503.41 L341.85 503.57 L342.58 503.72 L343.31 503.87 L344.03 504.01 L344.76 504.15 L345.49 504.29 L346.21 504.42 L346.94 504.55 L347.67 504.67 L348.39 504.79 L349.12 504.91 L349.85 505.02 L350.57 505.12 L351.3 505.23 L352.03 505.33 L352.75 505.43 L353.48 505.53 L354.21 505.63 L354.93 505.73 L355.66 505.83 L356.39 505.94 L357.11 506.05 L357.84 506.16 L358.57 506.26 L359.29 506.37 L360.02 506.48 L360.75 506.58 L361.47 506.69 L362.2 506.79 L362.93 506.89 L363.65 506.98 L364.38 507.07 L365.11 507.16 L365.83 507.25 L366.56 507.33 L367.28 507.42 L368.01 507.5 L368.74 507.59 L369.46 507.67 L370.19 507.75 L370.92 507.83 L371.64 507.91 L372.37 507.99 L373.1 508.07 L373.82 508.15 L374.55 508.22 L375.28 508.3 L376 508.37 L376.73 508.45 L377.46 508.52 L378.18 508.59 L378.91 508.66 L379.64 508.73 L380.36 508.8 L381.09 508.87 L381.82 508.94 L382.54 509.01 L383.27 509.07 L384 509.14 L384.72 509.2 L385.45 509.26 L386.18 509.33 L386.9 509.39 L387.63 509.45 L388.36 509.51 L389.08 509.57 L389.81 509.62 L390.54 509.68 L391.26 509.74 L391.99 509.79 L392.72 509.84 L393.44 509.9 L394.17 509.95 L394.89 510 L395.62 510.05 L396.35 510.1 L397.07 510.15 L397.8 510.2 L398.53 510.24 L399.25 510.29 L399.98 510.33 L400.71 510.38 L401.43 510.42 L402.16 510.46 L402.89 510.5 L403.61 510.54 L404.34 510.58 L405.07 510.62 L405.79 510.66 L406.52 510.7 L407.25 510.73 L407.97 510.77 L408.7 510.8" stroke="#ff0000" stroke-width="1.3" fill="none" stroke-linejoin="round" stroke-linecap="round"/>
<circle cx="264.11" cy="407.1" r="1.6" fill="#ff0000"/>
<circle cx="271.72" cy="442.3" r="1.6" fill="#ff0000"/>
<circle cx="279.33" cy="461.3" r="1.6" fill="#ff0000"/>
<circle cx="286.94" cy="473.4" r="1.6" fill="#ff0000"/>
<circle cx="294.55" cy="482.1" r="1.6" fill="#ff0000"/>
<circle cx="302.16" cy="488" r="1.6" fill="#ff0000"/>
<circle cx="309.77" cy="492.7" r="1.6" fill="#ff0000"/>
<circle cx="317.38" cy="496.1" r="1.6" fill="#ff0000"/>
<circle cx="324.99" cy="498.8" r="1.6" fill="#ff0000"/>
<circle cx="332.6" cy="501.1" r="1.6" fill="#ff0000"/>
<circle cx="340.21" cy="503.2" r="1.6" fill="#ff0000"/>
<circle cx="347.82" cy="504.7" r="1.6" fill="#ff0000"/>
<circle cx="355.43" cy="505.8" r="1.6" fill="#ff0000"/>
<circle cx="363.04" cy="506.9" r="1.6" fill="#ff0000"/>
<circle cx="370.65" cy="507.8" r="1.6" fill="#ff0000"/>
<circle cx="378.26" cy="508.6" r="1.6" fill="#ff0000"/>
<circle cx="385.87" cy="509.3" r="1.6" fill="#ff0000"/>
<circle cx="393.48" cy="509.9" r="1.6" fill="#ff0000"/>
<circle cx="401.09" cy="510.4" r="1.6" fill="#ff0000"/>
<circle cx="408.7" cy="510.8" r="1.6" fill="#ff0000"/>
<path d="M284.2 478.3L272.1 478.3" stroke="#ff0000" stroke-width="1.2" opacity="1"/>
<path d="M267.1 478.3L272.1 476.2L272.1 480.4Z" fill="#ff0000" opacity="1"/>
<path d="M382 429.9L393.9 429.9" stroke="#0000ff" stroke-width="1.2" opacity="0.75"/>
<path d="M398.9 429.9L393.9 432L393.9 427.8Z" fill="#0000ff" opacity="0.75"/>
<defs>
<radialGradient id="gGray" cx="0.5" cy="0.45" r="0.6" fx="0.45" fy="0.35">
<stop offset="0" stop-color="#d6d6d6"/><stop offset="0.6" stop-color="#b8b8b8"/><stop offset="1" stop-color="#828282"/></radialGradient>
<radialGradient id="gTeal" cx="0.5" cy="0.45" r="0.6" fx="0.6" fy="0.4">
<stop offset="0" stop-color="#2aa6bf"/><stop offset="0.65" stop-color="#1f9ca6"/><stop offset="1" stop-color="#168289"/></radialGradient>
<radialGradient id="gGold" cx="0.5" cy="0.45" r="0.6" fx="0.5" fy="0.4">
<stop offset="0" stop-color="#d98c33"/><stop offset="0.65" stop-color="#c27427"/><stop offset="1" stop-color="#97581c"/></radialGradient>
<radialGradient id="gPm" cx="0.5" cy="0.45" r="0.6" fx="0.5" fy="0.35">
<stop offset="0" stop-color="#eeeee6"/><stop offset="0.6" stop-color="#d6d6cc"/><stop offset="1" stop-color="#9a9a92"/></radialGradient>
</defs>
<circle cx="166.3" cy="52.85" r="10.25" fill="url(#gGray)"/>
<path d="M164.2 47.25h4.2M166.3 45.15v4.2M164.1 59.45h4.4" stroke="#111" stroke-width="1.2"/>
<circle cx="166.3" cy="91.1" r="10.25" fill="url(#gTeal)"/>
<path d="M164.2 85.5h4.2M166.3 83.4v4.2M164.1 97.7h4.4" stroke="#111" stroke-width="1.2"/>
<path d="M165.1 63.4H184.3M165.1 81.3H184.3" stroke="#111" stroke-width="1.2"/>
<path d="M178.7 66.4V78.3" stroke="#111" stroke-width="1.15"/>
<path d="M178.7 63.9l-2 3.9h4z M178.7 80.8l-2 -3.9h4z" fill="#111"/>
<text x="181.8" y="75.2" font-size="8.5" text-anchor="start" fill="#222" stroke="#222" stroke-width="0.05" font-style="italic">z</text>
<text x="121.3" y="53" font-size="8.8" text-anchor="start" fill="#111" stroke="#111" stroke-width="0.1" textLength="32.2" lengthAdjust="spacingAndGlyphs" >Tungsten</text>
<text x="137.4" y="96" font-size="8.8" text-anchor="start" fill="#111" stroke="#111" stroke-width="0.1" textLength="14.8" lengthAdjust="spacingAndGlyphs" >R6G</text>
<path d="M148.3 83.6L148.3 63.6" stroke="#ff1a1a" stroke-width="1.1" opacity="1"/>
<path d="M148.3 58.4L150.6 63.6L146 63.6Z" fill="#ff1a1a" opacity="1"/>
<text x="138.6" y="75.8" font-size="8.8" text-anchor="start" fill="#222" stroke="#222" stroke-width="0.3" font-style="italic">E</text>
<path d="M139.4 68.2h4.2" stroke="#333" stroke-width="0.6"/><path d="M144.2 68.2l-1.4 -0.9v1.8z" fill="#333"/>
<text x="180.2" y="56.2" font-size="9.5" text-anchor="start" fill="#222" stroke="#222" stroke-width="0" >&#956;</text>
<text x="185.6" y="58.2" font-size="6.4" text-anchor="start" fill="#000" stroke="#000" stroke-width="0.15" >t</text>
<text x="180.2" y="94.5" font-size="9.5" text-anchor="start" fill="#222" stroke="#222" stroke-width="0" >&#956;</text>
<text x="185.6" y="96.5" font-size="6.4" text-anchor="start" fill="#000" stroke="#000" stroke-width="0.15" >s</text>
<circle cx="86.3" cy="277.85" r="10.25" fill="url(#gGold)"/>
<path d="M84.2 272.25h4.2M86.3 270.15v4.2M84.1 284.45h4.4" stroke="#111" stroke-width="1.2"/>
<circle cx="86.3" cy="316.15" r="10.25" fill="url(#gPm)"/>
<path d="M84.2 310.55h4.2M86.3 308.45v4.2M84.1 322.75h4.4" stroke="#111" stroke-width="1.2"/>
<path d="M85.1 288.4H103.7M85.1 306.4H103.7" stroke="#111" stroke-width="1.2"/>
<path d="M98.7 291.4V303.4" stroke="#111" stroke-width="1.15"/>
<path d="M98.7 288.9l-2 3.9h4z M98.7 305.9l-2 -3.9h4z" fill="#111"/>
<text x="101.8" y="299.6" font-size="8.5" text-anchor="start" fill="#222" stroke="#222" stroke-width="0.05" font-style="italic">z</text>
<text x="57.9" y="279.2" font-size="8.8" text-anchor="start" fill="#111" stroke="#111" stroke-width="0.1" textLength="16.5" lengthAdjust="spacingAndGlyphs" >Gold</text>
<text x="52.1" y="321.3" font-size="8.8" text-anchor="start" fill="#111" stroke="#111" stroke-width="0.1" textLength="22.5" lengthAdjust="spacingAndGlyphs" >PMMA</text>
<path d="M68.6 308.3L68.6 287.8" stroke="#ff1a1a" stroke-width="1.1" opacity="1"/>
<path d="M68.6 282.6L70.9 287.8L66.3 287.8Z" fill="#ff1a1a" opacity="1"/>
<text x="59.7" y="299.6" font-size="8.8" text-anchor="start" fill="#222" stroke="#222" stroke-width="0.3" font-style="italic">E</text>
<path d="M60.5 292h4.2" stroke="#333" stroke-width="0.6"/><path d="M65.3 292l-1.4 -0.9v1.8z" fill="#333"/>
<text x="100" y="281.5" font-size="9.5" text-anchor="start" fill="#222" stroke="#222" stroke-width="0" >&#956;</text>
<text x="105.4" y="283.5" font-size="6.4" text-anchor="start" fill="#000" stroke="#000" stroke-width="0.15" >t</text>
<text x="100" y="320" font-size="9.5" text-anchor="start" fill="#222" stroke="#222" stroke-width="0" >&#956;</text>
<text x="105.4" y="322" font-size="6.4" text-anchor="start" fill="#000" stroke="#000" stroke-width="0.15" >s</text>
<g stroke="#333" stroke-width="1.1" fill="none" stroke-linecap="butt">
<path d="M266.9 248.2V256.6"/>
<path d="M270.1 261.6L280.3 267V283.4"/>
<path d="M261.5 284L271.5 287.9L280.3 283.4L293.2 288.1"/>
<path d="M280.3 283.4L277.4 294"/>
<path d="M264.4 274.2H262.2V298.2H264.4"/>
<path d="M291 274.2H293.2V298.2H291"/>
</g>
<circle cx="267.2" cy="259.3" r="2.3" fill="none" stroke="#333" stroke-width="1"/>
<path d="M280.3 267L287.6 262.3M281.3 268.8L288.4 264.1" stroke="#ff2020" stroke-width="1"/>
<circle cx="290.4" cy="259.5" r="2.4" fill="none" stroke="#ff2020" stroke-width="1"/>
<text x="267.8" y="304.2" font-size="7" text-anchor="start" fill="#222" stroke="#222" stroke-width="0.1" textLength="20.5" lengthAdjust="spacingAndGlyphs" >PMMA</text>
<text x="293.6" y="299.8" font-size="8" text-anchor="start" fill="#222" stroke="#222" stroke-width="0.1" >n</text>
</g></svg>
</body></html>
